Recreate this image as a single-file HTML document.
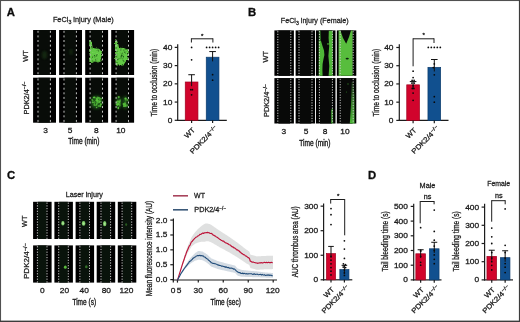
<!DOCTYPE html>
<html><head><meta charset="utf-8"><style>
html,body{margin:0;padding:0;background:#fff;}
svg{display:block;font-family:"Liberation Sans",sans-serif;will-change:transform;}
text{fill:#1c1c1c;stroke:#1c1c1c;stroke-width:0.27px;}
</style></head><body>
<svg width="520" height="322" viewBox="0 0 520 322">
<defs><filter id="b1" x="-50%" y="-50%" width="200%" height="200%"><feGaussianBlur stdDeviation="0.55"/></filter><filter id="b2" x="-50%" y="-50%" width="200%" height="200%"><feGaussianBlur stdDeviation="1.0"/></filter><filter id="b3" x="-50%" y="-50%" width="200%" height="200%"><feGaussianBlur stdDeviation="1.6"/></filter><filter id="rag" x="-30%" y="-30%" width="160%" height="160%"><feTurbulence type="fractalNoise" baseFrequency="0.55" numOctaves="2" seed="4" result="t"/><feDisplacementMap in="SourceGraphic" in2="t" scale="3.2" xChannelSelector="R" yChannelSelector="G" result="d"/><feGaussianBlur in="d" stdDeviation="0.45"/></filter></defs>
<rect x="0.00" y="0.00" width="520.00" height="322.00" fill="#fff" />
<text x="6.80" y="15.90" font-size="11.3" font-weight="bold" style="fill:#0c0c0c;stroke:#0c0c0c;stroke-width:0.3px;">A</text>
<text x="248.00" y="16.10" font-size="11.3" font-weight="bold" style="fill:#0c0c0c;stroke:#0c0c0c;stroke-width:0.3px;">B</text>
<text x="6.90" y="179.30" font-size="11.3" font-weight="bold" style="fill:#0c0c0c;stroke:#0c0c0c;stroke-width:0.3px;">C</text>
<text x="368.00" y="179.30" font-size="11.3" font-weight="bold" style="fill:#0c0c0c;stroke:#0c0c0c;stroke-width:0.3px;">D</text>
<text x="52.90" y="22.40" font-size="7.9" textLength="60.80" lengthAdjust="spacingAndGlyphs">FeCl<tspan font-size="72%" dy="1.7">3</tspan><tspan dy="-1.7"> injury (Male)</tspan></text>
<rect x="33.10" y="30.00" width="22.90" height="45.00" fill="#000" />
<rect x="38.50" y="30.00" width="11.40" height="45.00" fill="#080c08" />
<rect x="59.10" y="30.00" width="22.90" height="45.00" fill="#000" />
<rect x="64.50" y="30.00" width="11.40" height="45.00" fill="#080c08" />
<rect x="85.20" y="30.00" width="22.90" height="45.00" fill="#000" />
<rect x="90.60" y="30.00" width="11.40" height="45.00" fill="#080c08" />
<rect x="111.20" y="30.00" width="22.90" height="45.00" fill="#000" />
<rect x="116.60" y="30.00" width="11.40" height="45.00" fill="#080c08" />
<rect x="33.10" y="77.70" width="22.90" height="45.00" fill="#000" />
<rect x="38.50" y="77.70" width="11.40" height="45.00" fill="#080c08" />
<rect x="59.10" y="77.70" width="22.90" height="45.00" fill="#000" />
<rect x="64.50" y="77.70" width="11.40" height="45.00" fill="#080c08" />
<rect x="85.20" y="77.70" width="22.90" height="45.00" fill="#000" />
<rect x="90.60" y="77.70" width="11.40" height="45.00" fill="#080c08" />
<rect x="111.20" y="77.70" width="22.90" height="45.00" fill="#000" />
<rect x="116.60" y="77.70" width="11.40" height="45.00" fill="#080c08" />
<clipPath id="cp1"><path d="M89.3,40.5 L90.8,40 L92,44 L92.8,48 L96,48.5 L99,48.8 L101.5,51.5 L102.2,55 L100.8,58 L101.6,61 L98,62.6 L95,61.6 L92,62.9 L89.3,62 L89.9,57 L89.3,52 Z"/></clipPath>
<g filter="url(#rag)"><g clip-path="url(#cp1)"><rect x="89" y="40" width="14" height="23" fill="#62c944"/>
<rect x="101.94" y="50.71" width="1.05" height="1.16" fill="#1e5a16" opacity="0.73"/>
<rect x="96.17" y="54.49" width="1.19" height="0.78" fill="#1e5a16" opacity="0.86"/>
<rect x="90.27" y="58.62" width="0.69" height="0.90" fill="#1e5a16" opacity="0.81"/>
<rect x="102.51" y="55.04" width="0.64" height="1.58" fill="#1e5a16" opacity="0.78"/>
<rect x="96.40" y="41.37" width="0.76" height="0.62" fill="#1e5a16" opacity="0.59"/>
<rect x="95.50" y="50.13" width="0.84" height="0.63" fill="#1e5a16" opacity="0.88"/>
<rect x="96.00" y="55.24" width="1.12" height="1.24" fill="#1e5a16" opacity="0.71"/>
<rect x="102.94" y="59.32" width="0.88" height="1.60" fill="#1e5a16" opacity="0.82"/>
<rect x="93.05" y="41.62" width="0.92" height="0.83" fill="#1e5a16" opacity="0.84"/>
<rect x="94.41" y="62.03" width="1.00" height="1.45" fill="#1e5a16" opacity="0.88"/>
<rect x="101.74" y="50.81" width="0.60" height="0.81" fill="#1e5a16" opacity="0.94"/>
<rect x="97.81" y="57.91" width="1.00" height="0.67" fill="#1e5a16" opacity="0.62"/>
<rect x="102.50" y="57.43" width="0.69" height="0.93" fill="#1e5a16" opacity="0.55"/>
<rect x="89.84" y="58.33" width="0.85" height="0.70" fill="#1e5a16" opacity="0.58"/>
<rect x="91.67" y="56.83" width="1.16" height="1.05" fill="#1e5a16" opacity="0.56"/>
<rect x="94.89" y="44.90" width="1.24" height="0.72" fill="#1e5a16" opacity="0.62"/>
<rect x="93.26" y="60.35" width="1.57" height="1.40" fill="#1e5a16" opacity="0.59"/>
<rect x="97.99" y="42.31" width="0.99" height="1.45" fill="#1e5a16" opacity="0.95"/>
<rect x="99.82" y="47.57" width="0.81" height="0.86" fill="#1e5a16" opacity="0.63"/>
<rect x="97.16" y="45.59" width="0.67" height="0.69" fill="#1e5a16" opacity="0.77"/>
<rect x="102.43" y="51.13" width="0.97" height="1.05" fill="#1e5a16" opacity="0.76"/>
<rect x="91.16" y="60.89" width="1.47" height="0.78" fill="#1e5a16" opacity="0.87"/>
<rect x="99.35" y="61.63" width="0.85" height="0.79" fill="#1e5a16" opacity="0.59"/>
<rect x="97.45" y="49.69" width="1.55" height="1.48" fill="#1e5a16" opacity="0.55"/>
<rect x="92.34" y="56.21" width="0.64" height="1.56" fill="#1e5a16" opacity="0.62"/>
<rect x="93.11" y="44.03" width="1.42" height="1.20" fill="#1e5a16" opacity="0.82"/>
<rect x="96.83" y="59.61" width="0.67" height="0.83" fill="#1e5a16" opacity="0.78"/>
<rect x="91.86" y="40.38" width="0.88" height="1.52" fill="#1e5a16" opacity="0.62"/>
<rect x="91.47" y="48.48" width="1.05" height="0.66" fill="#1e5a16" opacity="0.76"/>
<rect x="101.47" y="62.55" width="0.73" height="0.96" fill="#1e5a16" opacity="0.80"/>
<rect x="90.96" y="40.81" width="1.29" height="1.18" fill="#1e5a16" opacity="0.51"/>
<rect x="102.48" y="40.49" width="1.51" height="1.30" fill="#1e5a16" opacity="0.79"/>
<rect x="93.46" y="62.99" width="1.08" height="1.33" fill="#1e5a16" opacity="0.53"/>
<rect x="101.60" y="56.95" width="1.15" height="1.34" fill="#1e5a16" opacity="0.82"/>
<rect x="93.93" y="55.76" width="1.39" height="1.52" fill="#1e5a16" opacity="0.91"/>
<rect x="100.07" y="59.86" width="1.47" height="1.02" fill="#1e5a16" opacity="0.76"/>
<rect x="97.16" y="54.00" width="1.22" height="0.98" fill="#1e5a16" opacity="0.54"/>
<rect x="101.32" y="56.75" width="1.24" height="1.59" fill="#1e5a16" opacity="0.67"/>
<rect x="95.17" y="59.28" width="1.34" height="1.18" fill="#1e5a16" opacity="0.54"/>
<rect x="97.42" y="51.06" width="1.35" height="0.63" fill="#1e5a16" opacity="0.60"/>
<rect x="97.60" y="61.17" width="1.30" height="1.10" fill="#1e5a16" opacity="0.62"/>
<rect x="98.49" y="44.66" width="0.61" height="0.90" fill="#1e5a16" opacity="0.58"/>
<rect x="95.19" y="60.51" width="1.51" height="1.26" fill="#1e5a16" opacity="0.65"/>
<rect x="95.03" y="58.54" width="1.27" height="0.80" fill="#1e5a16" opacity="0.91"/>
<rect x="97.16" y="47.28" width="1.48" height="0.98" fill="#1e5a16" opacity="0.56"/>
<rect x="100.88" y="56.36" width="1.10" height="1.44" fill="#1e5a16" opacity="0.93"/>
<rect x="95.31" y="46.33" width="0.88" height="0.77" fill="#1e5a16" opacity="0.60"/>
<rect x="95.91" y="47.25" width="1.01" height="1.23" fill="#1e5a16" opacity="0.88"/>
<rect x="90.05" y="40.72" width="1.58" height="1.05" fill="#1e5a16" opacity="0.89"/>
<rect x="96.99" y="47.11" width="0.64" height="1.31" fill="#1e5a16" opacity="0.86"/>
<rect x="95.37" y="40.57" width="0.62" height="0.74" fill="#1e5a16" opacity="0.87"/>
<rect x="89.66" y="54.47" width="0.84" height="0.74" fill="#1e5a16" opacity="0.70"/>
<rect x="100.30" y="62.04" width="1.23" height="1.26" fill="#1e5a16" opacity="0.81"/>
<rect x="91.50" y="40.25" width="0.80" height="1.08" fill="#1e5a16" opacity="0.71"/>
<rect x="92.81" y="47.95" width="1.31" height="0.78" fill="#1e5a16" opacity="0.81"/>
<rect x="99.59" y="49.05" width="1.02" height="1.09" fill="#8fe070" opacity="0.82"/>
<rect x="102.06" y="56.61" width="1.32" height="0.67" fill="#8fe070" opacity="0.55"/>
<rect x="101.74" y="48.67" width="0.96" height="1.10" fill="#8fe070" opacity="0.73"/>
<rect x="102.22" y="50.67" width="1.30" height="1.24" fill="#8fe070" opacity="0.76"/>
<rect x="100.46" y="54.76" width="0.76" height="1.18" fill="#8fe070" opacity="0.79"/>
<rect x="102.73" y="62.48" width="0.77" height="1.32" fill="#8fe070" opacity="0.71"/>
<rect x="101.74" y="59.68" width="1.23" height="0.86" fill="#8fe070" opacity="0.64"/>
<rect x="96.70" y="57.67" width="0.67" height="0.95" fill="#8fe070" opacity="0.69"/>
<rect x="89.90" y="58.40" width="0.62" height="1.25" fill="#8fe070" opacity="0.57"/>
<rect x="90.97" y="43.42" width="0.87" height="1.23" fill="#8fe070" opacity="0.71"/>
<rect x="98.65" y="61.75" width="1.18" height="1.27" fill="#8fe070" opacity="0.70"/>
<rect x="92.10" y="52.11" width="1.36" height="0.67" fill="#8fe070" opacity="0.62"/>
<rect x="96.32" y="59.40" width="1.18" height="1.11" fill="#8fe070" opacity="0.72"/>
<rect x="100.83" y="60.71" width="0.85" height="0.90" fill="#8fe070" opacity="0.58"/>
<rect x="96.34" y="53.18" width="1.28" height="1.37" fill="#8fe070" opacity="0.58"/>
<rect x="97.47" y="40.64" width="1.03" height="1.00" fill="#8fe070" opacity="0.89"/>
<rect x="100.21" y="52.95" width="1.01" height="0.92" fill="#8fe070" opacity="0.70"/>
<rect x="96.54" y="49.52" width="1.15" height="0.65" fill="#8fe070" opacity="0.88"/>
</g></g>
<clipPath id="cp2"><path d="M115,39.3 L116.8,39.8 L118.2,44 L119.2,47.8 L124,48 L127,49.4 L128.9,52 L127.6,55 L128.6,58 L126.2,61 L124.6,63.2 L123.4,65.6 L116,65.6 L115.3,60 L115,50 Z"/></clipPath>
<g filter="url(#rag)"><g clip-path="url(#cp2)"><rect x="114" y="39" width="16" height="27" fill="#62c944"/>
<rect x="124.66" y="42.85" width="1.07" height="1.26" fill="#1e5a16" opacity="0.50"/>
<rect x="126.97" y="57.65" width="0.97" height="0.87" fill="#1e5a16" opacity="0.77"/>
<rect x="116.32" y="50.88" width="1.16" height="1.26" fill="#1e5a16" opacity="0.57"/>
<rect x="127.10" y="41.01" width="1.51" height="0.66" fill="#1e5a16" opacity="0.81"/>
<rect x="127.48" y="39.50" width="0.94" height="1.00" fill="#1e5a16" opacity="0.53"/>
<rect x="115.46" y="65.65" width="1.52" height="1.11" fill="#1e5a16" opacity="0.93"/>
<rect x="116.16" y="47.44" width="0.71" height="1.02" fill="#1e5a16" opacity="0.78"/>
<rect x="114.82" y="43.62" width="0.76" height="1.30" fill="#1e5a16" opacity="0.87"/>
<rect x="123.54" y="51.87" width="1.00" height="1.02" fill="#1e5a16" opacity="0.67"/>
<rect x="129.48" y="65.36" width="0.63" height="1.33" fill="#1e5a16" opacity="0.80"/>
<rect x="125.04" y="57.19" width="0.96" height="0.96" fill="#1e5a16" opacity="0.55"/>
<rect x="122.18" y="60.87" width="0.83" height="0.96" fill="#1e5a16" opacity="0.73"/>
<rect x="120.88" y="53.01" width="0.63" height="1.42" fill="#1e5a16" opacity="0.60"/>
<rect x="126.35" y="41.77" width="1.03" height="0.99" fill="#1e5a16" opacity="0.75"/>
<rect x="114.59" y="46.47" width="0.78" height="1.30" fill="#1e5a16" opacity="0.65"/>
<rect x="121.35" y="44.64" width="1.24" height="0.65" fill="#1e5a16" opacity="0.63"/>
<rect x="121.70" y="64.81" width="1.08" height="1.56" fill="#1e5a16" opacity="0.58"/>
<rect x="117.03" y="59.21" width="1.52" height="0.96" fill="#1e5a16" opacity="0.91"/>
<rect x="126.33" y="48.23" width="0.61" height="0.87" fill="#1e5a16" opacity="0.61"/>
<rect x="123.91" y="65.56" width="0.61" height="0.64" fill="#1e5a16" opacity="0.95"/>
<rect x="119.16" y="60.26" width="1.10" height="0.62" fill="#1e5a16" opacity="0.87"/>
<rect x="122.44" y="51.89" width="1.24" height="0.83" fill="#1e5a16" opacity="0.78"/>
<rect x="128.31" y="43.38" width="0.86" height="1.55" fill="#1e5a16" opacity="0.63"/>
<rect x="129.10" y="52.91" width="1.47" height="0.88" fill="#1e5a16" opacity="0.81"/>
<rect x="118.56" y="45.88" width="1.30" height="0.81" fill="#1e5a16" opacity="0.81"/>
<rect x="128.18" y="50.35" width="1.29" height="0.73" fill="#1e5a16" opacity="0.61"/>
<rect x="122.96" y="55.87" width="1.04" height="1.58" fill="#1e5a16" opacity="0.91"/>
<rect x="120.68" y="54.89" width="1.56" height="1.36" fill="#1e5a16" opacity="0.91"/>
<rect x="119.56" y="48.95" width="1.39" height="1.18" fill="#1e5a16" opacity="0.83"/>
<rect x="125.36" y="63.40" width="1.16" height="0.62" fill="#1e5a16" opacity="0.86"/>
<rect x="122.56" y="60.31" width="1.50" height="1.51" fill="#1e5a16" opacity="0.67"/>
<rect x="118.99" y="64.22" width="0.70" height="0.95" fill="#1e5a16" opacity="0.81"/>
<rect x="116.00" y="53.42" width="1.14" height="1.22" fill="#1e5a16" opacity="0.82"/>
<rect x="120.51" y="47.74" width="0.99" height="0.85" fill="#1e5a16" opacity="0.81"/>
<rect x="119.00" y="57.79" width="0.74" height="0.69" fill="#1e5a16" opacity="0.84"/>
<rect x="119.85" y="39.80" width="1.26" height="1.53" fill="#1e5a16" opacity="0.72"/>
<rect x="124.68" y="48.21" width="1.04" height="0.78" fill="#1e5a16" opacity="0.61"/>
<rect x="114.12" y="48.73" width="0.93" height="1.54" fill="#1e5a16" opacity="0.63"/>
<rect x="117.53" y="63.81" width="0.80" height="1.03" fill="#1e5a16" opacity="0.73"/>
<rect x="121.43" y="55.38" width="1.30" height="0.76" fill="#1e5a16" opacity="0.88"/>
<rect x="127.68" y="61.46" width="0.85" height="1.06" fill="#1e5a16" opacity="0.60"/>
<rect x="120.32" y="57.18" width="1.14" height="1.36" fill="#1e5a16" opacity="0.80"/>
<rect x="124.89" y="48.46" width="1.57" height="1.15" fill="#1e5a16" opacity="0.83"/>
<rect x="119.77" y="47.29" width="0.92" height="1.10" fill="#1e5a16" opacity="0.56"/>
<rect x="118.03" y="40.24" width="0.83" height="1.14" fill="#1e5a16" opacity="0.86"/>
<rect x="123.58" y="49.51" width="0.89" height="1.54" fill="#1e5a16" opacity="0.89"/>
<rect x="116.01" y="56.31" width="1.50" height="0.92" fill="#1e5a16" opacity="0.88"/>
<rect x="120.60" y="55.68" width="1.21" height="1.38" fill="#1e5a16" opacity="0.62"/>
<rect x="120.15" y="49.79" width="1.01" height="0.98" fill="#1e5a16" opacity="0.86"/>
<rect x="118.07" y="65.22" width="0.77" height="0.81" fill="#1e5a16" opacity="0.74"/>
<rect x="127.98" y="61.17" width="0.65" height="1.44" fill="#1e5a16" opacity="0.66"/>
<rect x="116.20" y="62.36" width="1.33" height="0.91" fill="#1e5a16" opacity="0.87"/>
<rect x="114.39" y="47.33" width="0.81" height="1.48" fill="#1e5a16" opacity="0.51"/>
<rect x="125.45" y="47.01" width="0.77" height="0.76" fill="#1e5a16" opacity="0.59"/>
<rect x="127.79" y="55.39" width="0.78" height="0.91" fill="#1e5a16" opacity="0.55"/>
<rect x="121.18" y="53.24" width="1.28" height="1.14" fill="#1e5a16" opacity="0.79"/>
<rect x="124.17" y="51.62" width="1.40" height="1.11" fill="#1e5a16" opacity="0.79"/>
<rect x="122.27" y="58.31" width="0.99" height="1.01" fill="#1e5a16" opacity="0.63"/>
<rect x="127.69" y="57.64" width="1.52" height="1.09" fill="#1e5a16" opacity="0.93"/>
<rect x="120.49" y="55.41" width="1.28" height="1.03" fill="#1e5a16" opacity="0.84"/>
<rect x="115.00" y="41.92" width="1.27" height="0.70" fill="#8fe070" opacity="0.53"/>
<rect x="117.99" y="42.06" width="0.65" height="0.61" fill="#8fe070" opacity="0.77"/>
<rect x="129.37" y="59.16" width="1.09" height="1.37" fill="#8fe070" opacity="0.88"/>
<rect x="128.82" y="51.84" width="0.62" height="0.78" fill="#8fe070" opacity="0.58"/>
<rect x="122.69" y="47.53" width="1.21" height="0.94" fill="#8fe070" opacity="0.60"/>
<rect x="129.24" y="65.64" width="0.67" height="1.09" fill="#8fe070" opacity="0.81"/>
<rect x="118.77" y="63.93" width="1.35" height="0.89" fill="#8fe070" opacity="0.74"/>
<rect x="117.66" y="52.03" width="1.14" height="0.61" fill="#8fe070" opacity="0.79"/>
<rect x="119.44" y="49.30" width="1.26" height="1.21" fill="#8fe070" opacity="0.84"/>
<rect x="117.12" y="55.86" width="1.39" height="0.99" fill="#8fe070" opacity="0.71"/>
<rect x="120.17" y="55.53" width="0.89" height="0.78" fill="#8fe070" opacity="0.55"/>
<rect x="125.92" y="45.81" width="1.03" height="1.36" fill="#8fe070" opacity="0.67"/>
<rect x="124.11" y="43.67" width="0.68" height="1.19" fill="#8fe070" opacity="0.72"/>
<rect x="120.05" y="47.37" width="1.08" height="1.06" fill="#8fe070" opacity="0.64"/>
<rect x="122.04" y="51.42" width="1.40" height="0.86" fill="#8fe070" opacity="0.57"/>
<rect x="119.16" y="48.91" width="0.92" height="0.76" fill="#8fe070" opacity="0.64"/>
<rect x="119.32" y="56.75" width="1.35" height="0.84" fill="#8fe070" opacity="0.66"/>
<rect x="115.18" y="57.13" width="1.01" height="1.12" fill="#8fe070" opacity="0.54"/>
<rect x="129.83" y="57.19" width="0.80" height="1.25" fill="#8fe070" opacity="0.57"/>
<rect x="127.46" y="45.30" width="0.95" height="0.83" fill="#8fe070" opacity="0.58"/>
</g></g>
<ellipse cx="96.5" cy="102.2" rx="6.2" ry="6.5" fill="#1e5418" filter="url(#b3)"/>
<g filter="url(#b1)">
<ellipse cx="98.67" cy="106.05" rx="1.11" ry="0.98" fill="#5ccb3e" opacity="0.60"/>
<ellipse cx="97.76" cy="97.38" rx="1.01" ry="1.00" fill="#5ccb3e" opacity="0.61"/>
<ellipse cx="99.26" cy="102.26" rx="1.07" ry="0.66" fill="#5ccb3e" opacity="0.86"/>
<ellipse cx="96.72" cy="104.28" rx="0.63" ry="1.40" fill="#5ccb3e" opacity="0.83"/>
<ellipse cx="99.29" cy="99.28" rx="0.63" ry="0.86" fill="#5ccb3e" opacity="0.72"/>
<ellipse cx="100.49" cy="105.93" rx="0.89" ry="0.72" fill="#5ccb3e" opacity="0.87"/>
<ellipse cx="100.22" cy="106.09" rx="0.96" ry="1.04" fill="#5ccb3e" opacity="0.65"/>
<ellipse cx="94.80" cy="102.37" rx="0.63" ry="1.29" fill="#5ccb3e" opacity="0.61"/>
<ellipse cx="96.85" cy="100.30" rx="1.38" ry="1.32" fill="#5ccb3e" opacity="0.84"/>
<ellipse cx="96.80" cy="98.25" rx="1.18" ry="0.70" fill="#5ccb3e" opacity="0.71"/>
<ellipse cx="97.34" cy="100.53" rx="1.34" ry="1.31" fill="#5ccb3e" opacity="0.68"/>
<ellipse cx="94.40" cy="104.69" rx="0.91" ry="1.40" fill="#5ccb3e" opacity="0.67"/>
<ellipse cx="97.54" cy="102.38" rx="1.17" ry="1.39" fill="#5ccb3e" opacity="0.72"/>
<ellipse cx="92.86" cy="102.40" rx="1.20" ry="0.78" fill="#5ccb3e" opacity="0.77"/>
<ellipse cx="92.78" cy="100.75" rx="0.74" ry="0.74" fill="#5ccb3e" opacity="0.66"/>
<ellipse cx="98.86" cy="100.98" rx="1.08" ry="0.85" fill="#5ccb3e" opacity="0.55"/>
<ellipse cx="100.89" cy="104.21" rx="1.22" ry="0.90" fill="#5ccb3e" opacity="0.81"/>
<ellipse cx="94.19" cy="97.39" rx="1.37" ry="0.93" fill="#5ccb3e" opacity="0.95"/>
<ellipse cx="100.21" cy="101.24" rx="1.31" ry="0.99" fill="#5ccb3e" opacity="0.67"/>
<ellipse cx="96.59" cy="107.49" rx="0.73" ry="0.66" fill="#5ccb3e" opacity="0.86"/>
<ellipse cx="97.00" cy="98.75" rx="1.27" ry="0.64" fill="#5ccb3e" opacity="0.62"/>
<ellipse cx="95.75" cy="105.26" rx="0.74" ry="0.66" fill="#5ccb3e" opacity="0.65"/>
<ellipse cx="100.91" cy="98.80" rx="1.20" ry="0.98" fill="#5ccb3e" opacity="0.61"/>
<ellipse cx="99.91" cy="101.25" rx="1.18" ry="0.62" fill="#5ccb3e" opacity="0.60"/>
<ellipse cx="98.98" cy="98.00" rx="1.31" ry="1.08" fill="#5ccb3e" opacity="0.69"/>
<ellipse cx="92.19" cy="99.68" rx="0.85" ry="1.03" fill="#5ccb3e" opacity="0.62"/>
</g>
<ellipse cx="118.4" cy="102.5" rx="2.8" ry="6.3" fill="#1e5418" filter="url(#b3)"/>
<g filter="url(#b1)">
<ellipse cx="119.01" cy="102.13" rx="0.62" ry="1.40" fill="#5ccb3e" opacity="0.58"/>
<ellipse cx="119.74" cy="105.36" rx="0.88" ry="1.31" fill="#5ccb3e" opacity="0.60"/>
<ellipse cx="119.49" cy="101.86" rx="1.08" ry="1.35" fill="#5ccb3e" opacity="0.81"/>
<ellipse cx="120.14" cy="100.47" rx="0.64" ry="1.31" fill="#5ccb3e" opacity="0.77"/>
<ellipse cx="118.11" cy="104.13" rx="1.28" ry="1.07" fill="#5ccb3e" opacity="0.92"/>
<ellipse cx="118.76" cy="97.09" rx="1.05" ry="1.16" fill="#5ccb3e" opacity="0.78"/>
<ellipse cx="118.27" cy="107.94" rx="0.85" ry="1.22" fill="#5ccb3e" opacity="0.93"/>
<ellipse cx="118.03" cy="101.33" rx="1.26" ry="1.13" fill="#5ccb3e" opacity="0.58"/>
<ellipse cx="119.93" cy="103.60" rx="0.63" ry="1.34" fill="#5ccb3e" opacity="0.73"/>
<ellipse cx="117.07" cy="102.17" rx="1.13" ry="1.33" fill="#5ccb3e" opacity="0.64"/>
<ellipse cx="117.20" cy="105.24" rx="0.84" ry="1.08" fill="#5ccb3e" opacity="0.74"/>
<ellipse cx="116.67" cy="104.23" rx="1.02" ry="0.67" fill="#5ccb3e" opacity="0.95"/>
</g>
<ellipse cx="125.2" cy="102.5" rx="2.9" ry="6.3" fill="#1e5418" filter="url(#b3)"/>
<g filter="url(#b1)">
<ellipse cx="127.42" cy="100.04" rx="1.31" ry="0.67" fill="#5ccb3e" opacity="0.77"/>
<ellipse cx="123.73" cy="104.16" rx="0.70" ry="0.75" fill="#5ccb3e" opacity="0.70"/>
<ellipse cx="125.47" cy="105.69" rx="0.62" ry="0.67" fill="#5ccb3e" opacity="0.82"/>
<ellipse cx="123.77" cy="104.17" rx="1.19" ry="0.89" fill="#5ccb3e" opacity="0.53"/>
<ellipse cx="125.57" cy="98.70" rx="1.13" ry="1.10" fill="#5ccb3e" opacity="0.94"/>
<ellipse cx="123.81" cy="106.02" rx="0.89" ry="1.06" fill="#5ccb3e" opacity="0.80"/>
<ellipse cx="125.02" cy="103.43" rx="0.98" ry="1.17" fill="#5ccb3e" opacity="0.77"/>
<ellipse cx="123.40" cy="103.84" rx="0.75" ry="0.74" fill="#5ccb3e" opacity="0.65"/>
<ellipse cx="125.53" cy="100.86" rx="0.69" ry="0.68" fill="#5ccb3e" opacity="0.52"/>
<ellipse cx="124.92" cy="106.26" rx="1.26" ry="0.86" fill="#5ccb3e" opacity="0.67"/>
<ellipse cx="124.93" cy="104.88" rx="1.22" ry="1.04" fill="#5ccb3e" opacity="0.62"/>
<ellipse cx="126.91" cy="105.46" rx="1.17" ry="1.26" fill="#5ccb3e" opacity="0.61"/>
</g>
<ellipse cx="44.50" cy="55.00" rx="2.5" ry="4" fill="#1c3a18" opacity="0.6" filter="url(#b2)"/>
<ellipse cx="71.00" cy="52.00" rx="1.5" ry="3" fill="#1c3a18" opacity="0.6" filter="url(#b2)"/>
<line x1="38.00" y1="30.80" x2="38.00" y2="75.00" stroke="#c2c4c2" stroke-width="1" stroke-dasharray="2.0 2.60"/>
<line x1="50.40" y1="30.80" x2="50.40" y2="75.00" stroke="#c2c4c2" stroke-width="1" stroke-dasharray="2.0 2.60"/>
<line x1="64.00" y1="30.80" x2="64.00" y2="75.00" stroke="#c2c4c2" stroke-width="1" stroke-dasharray="2.0 2.60"/>
<line x1="76.40" y1="30.80" x2="76.40" y2="75.00" stroke="#c2c4c2" stroke-width="1" stroke-dasharray="2.0 2.60"/>
<line x1="90.10" y1="30.80" x2="90.10" y2="75.00" stroke="#c2c4c2" stroke-width="1" stroke-dasharray="2.0 2.60"/>
<line x1="102.50" y1="30.80" x2="102.50" y2="75.00" stroke="#c2c4c2" stroke-width="1" stroke-dasharray="2.0 2.60"/>
<line x1="116.10" y1="30.80" x2="116.10" y2="75.00" stroke="#c2c4c2" stroke-width="1" stroke-dasharray="2.0 2.60"/>
<line x1="128.50" y1="30.80" x2="128.50" y2="75.00" stroke="#c2c4c2" stroke-width="1" stroke-dasharray="2.0 2.60"/>
<line x1="38.00" y1="78.50" x2="38.00" y2="122.70" stroke="#c2c4c2" stroke-width="1" stroke-dasharray="2.0 2.60"/>
<line x1="50.40" y1="78.50" x2="50.40" y2="122.70" stroke="#c2c4c2" stroke-width="1" stroke-dasharray="2.0 2.60"/>
<line x1="64.00" y1="78.50" x2="64.00" y2="122.70" stroke="#c2c4c2" stroke-width="1" stroke-dasharray="2.0 2.60"/>
<line x1="76.40" y1="78.50" x2="76.40" y2="122.70" stroke="#c2c4c2" stroke-width="1" stroke-dasharray="2.0 2.60"/>
<line x1="90.10" y1="78.50" x2="90.10" y2="122.70" stroke="#c2c4c2" stroke-width="1" stroke-dasharray="2.0 2.60"/>
<line x1="102.50" y1="78.50" x2="102.50" y2="122.70" stroke="#c2c4c2" stroke-width="1" stroke-dasharray="2.0 2.60"/>
<line x1="116.10" y1="78.50" x2="116.10" y2="122.70" stroke="#c2c4c2" stroke-width="1" stroke-dasharray="2.0 2.60"/>
<line x1="128.50" y1="78.50" x2="128.50" y2="122.70" stroke="#c2c4c2" stroke-width="1" stroke-dasharray="2.0 2.60"/>
<text transform="translate(28.00,56.00) rotate(-90)" font-size="7.6" text-anchor="middle" textLength="11.40" lengthAdjust="spacingAndGlyphs">WT</text>
<text transform="translate(28.60,98.00) rotate(-90)" font-size="7.0" text-anchor="middle" textLength="33.00" lengthAdjust="spacingAndGlyphs">PDK2/4<tspan font-size="72%" dy="-2.4">−/−</tspan></text>
<text x="45.60" y="132.80" font-size="7.2" text-anchor="middle" textLength="4.65" lengthAdjust="spacingAndGlyphs">3</text>
<text x="69.95" y="132.80" font-size="7.2" text-anchor="middle" textLength="4.65" lengthAdjust="spacingAndGlyphs">5</text>
<text x="96.25" y="132.80" font-size="7.2" text-anchor="middle" textLength="4.65" lengthAdjust="spacingAndGlyphs">8</text>
<text x="120.85" y="132.80" font-size="7.2" text-anchor="middle" textLength="9.30" lengthAdjust="spacingAndGlyphs">10</text>
<text x="68.20" y="143.90" font-size="8.3" textLength="31.20" lengthAdjust="spacingAndGlyphs" style="stroke-width:0.36px;">Time (min)</text>
<line x1="177.70" y1="44.30" x2="177.70" y2="120.90" stroke="#1c1c1c" stroke-width="1.2" />
<line x1="177.10" y1="120.30" x2="226.80" y2="120.30" stroke="#1c1c1c" stroke-width="1.2" />
<line x1="174.70" y1="120.30" x2="177.70" y2="120.30" stroke="#1c1c1c" stroke-width="1.2" />
<text x="172.35" y="122.75" font-size="7.0" text-anchor="end" textLength="4.65" lengthAdjust="spacingAndGlyphs">0</text>
<line x1="174.70" y1="102.07" x2="177.70" y2="102.07" stroke="#1c1c1c" stroke-width="1.2" />
<text x="172.35" y="104.52" font-size="7.0" text-anchor="end" textLength="9.30" lengthAdjust="spacingAndGlyphs">10</text>
<line x1="174.70" y1="83.84" x2="177.70" y2="83.84" stroke="#1c1c1c" stroke-width="1.2" />
<text x="172.35" y="86.29" font-size="7.0" text-anchor="end" textLength="9.30" lengthAdjust="spacingAndGlyphs">20</text>
<line x1="174.70" y1="65.61" x2="177.70" y2="65.61" stroke="#1c1c1c" stroke-width="1.2" />
<text x="172.35" y="68.06" font-size="7.0" text-anchor="end" textLength="9.30" lengthAdjust="spacingAndGlyphs">30</text>
<line x1="174.70" y1="47.38" x2="177.70" y2="47.38" stroke="#1c1c1c" stroke-width="1.2" />
<text x="172.35" y="49.83" font-size="7.0" text-anchor="end" textLength="9.30" lengthAdjust="spacingAndGlyphs">40</text>
<rect x="185.25" y="82.00" width="12.70" height="38.30" fill="#d1042c" stroke="#a0021f" stroke-width="0.7"/>
<line x1="191.60" y1="74.72" x2="191.60" y2="86.15" stroke="#111" stroke-width="1.0" />
<line x1="188.30" y1="74.72" x2="194.90" y2="74.72" stroke="#111" stroke-width="1.0" />
<line x1="191.60" y1="120.30" x2="191.60" y2="123.10" stroke="#1c1c1c" stroke-width="1.2" />
<circle cx="191.60" cy="47.38" r="0.88" fill="#0a0a0a"/>
<circle cx="191.60" cy="59.78" r="0.88" fill="#0a0a0a"/>
<circle cx="191.60" cy="94.78" r="0.88" fill="#0a0a0a"/>
<circle cx="190.80" cy="89.67" r="0.88" fill="#0a0a0a"/>
<circle cx="192.40" cy="89.67" r="0.88" fill="#0a0a0a"/>
<rect x="206.25" y="57.21" width="12.70" height="63.09" fill="#11508f" stroke="#0b3b6c" stroke-width="0.7"/>
<line x1="212.60" y1="51.57" x2="212.60" y2="61.36" stroke="#111" stroke-width="1.0" />
<line x1="209.30" y1="51.57" x2="215.90" y2="51.57" stroke="#111" stroke-width="1.0" />
<line x1="212.60" y1="120.30" x2="212.60" y2="123.10" stroke="#1c1c1c" stroke-width="1.2" />
<circle cx="206.60" cy="47.38" r="0.88" fill="#0a0a0a"/>
<circle cx="209.60" cy="47.38" r="0.88" fill="#0a0a0a"/>
<circle cx="212.60" cy="47.38" r="0.88" fill="#0a0a0a"/>
<circle cx="215.60" cy="47.38" r="0.88" fill="#0a0a0a"/>
<circle cx="218.60" cy="47.38" r="0.88" fill="#0a0a0a"/>
<circle cx="212.60" cy="74.72" r="0.88" fill="#0a0a0a"/>
<circle cx="212.60" cy="80.19" r="0.88" fill="#0a0a0a"/>
<text transform="translate(157.30,82.70) rotate(-90)" font-size="8.7" text-anchor="middle" textLength="67.80" lengthAdjust="spacingAndGlyphs" style="stroke-width:0.3px;">Time to occlusion (min)</text>
<line x1="191.40" y1="38.80" x2="212.90" y2="38.80" stroke="#1c1c1c" stroke-width="1.0" />
<line x1="191.40" y1="38.30" x2="191.40" y2="42.50" stroke="#1c1c1c" stroke-width="1.0" />
<line x1="212.90" y1="38.30" x2="212.90" y2="42.50" stroke="#1c1c1c" stroke-width="1.0" />
<text x="202.10" y="37.60" font-size="6.2" text-anchor="middle">*</text>
<text x="280.80" y="22.90" font-size="7.9" textLength="67.80" lengthAdjust="spacingAndGlyphs">FeCl<tspan font-size="72%" dy="1.7">3</tspan><tspan dy="-1.7"> injury (Female)</tspan></text>
<rect x="274.40" y="30.40" width="19.50" height="45.40" fill="#000" />
<rect x="278.30" y="30.40" width="12.00" height="45.40" fill="#080908" />
<rect x="295.60" y="30.40" width="19.50" height="45.40" fill="#000" />
<rect x="299.50" y="30.40" width="12.00" height="45.40" fill="#080908" />
<rect x="316.00" y="30.40" width="19.50" height="45.40" fill="#000" />
<rect x="319.90" y="30.40" width="12.00" height="45.40" fill="#080908" />
<rect x="336.80" y="30.40" width="19.50" height="45.40" fill="#000" />
<rect x="340.70" y="30.40" width="12.00" height="45.40" fill="#080908" />
<rect x="274.40" y="78.10" width="19.50" height="45.40" fill="#000" />
<rect x="278.30" y="78.10" width="12.00" height="45.40" fill="#080908" />
<rect x="295.60" y="78.10" width="19.50" height="45.40" fill="#000" />
<rect x="299.50" y="78.10" width="12.00" height="45.40" fill="#080908" />
<rect x="316.00" y="78.10" width="19.50" height="45.40" fill="#000" />
<rect x="319.90" y="78.10" width="12.00" height="45.40" fill="#080908" />
<rect x="336.80" y="78.10" width="19.50" height="45.40" fill="#000" />
<rect x="340.70" y="78.10" width="12.00" height="45.40" fill="#080908" />
<path d="M318.8,30.6 L320.6,30.6 L321,38 L320.8,42 L318.8,42 Z" fill="#2f7a26" opacity="0.85" filter="url(#b1)"/>
<path d="M318.8,41 L321,41 L322.5,46 L324,50.5 L324.4,55 L323.5,59 L322.6,64 L322.4,70 L322.6,75.8 L318.8,75.8 Z" fill="#4fb838" opacity="1" filter="url(#b1)"/>
<path d="M328.8,30.8 L332.7,30.8 L332.7,75.8 L328.6,75.8 L329.3,66 L328.4,56 L329.2,46 L328.6,38 Z" fill="#4fb838" opacity="1" filter="url(#b1)"/>
<ellipse cx="328.00" cy="43.90" rx="0.9" ry="0.9" fill="#4fb838" opacity="0.8" filter="url(#b1)"/>
<path d="M338.6,30.4 L340.4,30.4 L343,38 L346.2,43.8 L349,37 L351,30.4 L352.6,30.4 L352.6,75.8 L338.6,75.8 Z" fill="#58bd3c" opacity="1" filter="url(#b1)"/>
<ellipse cx="347.20" cy="58.60" rx="1.6" ry="0.9" fill="#0b2008" opacity="1" filter="url(#b1)"/>
<path d="M331,110 L333,108 L333.2,123.5 L331,123.5 Z" fill="#3a9a2c" opacity="0.8" filter="url(#b1)"/>
<linearGradient id="gB4" x1="0" y1="0" x2="0" y2="1"><stop offset="0" stop-color="#2e7a24" stop-opacity="0.3"/><stop offset="0.5" stop-color="#3f9a2e" stop-opacity="0.8"/><stop offset="1" stop-color="#4cb538"/></linearGradient>
<path d="M351.6,82 L353.2,82 L354.5,95 L354.5,123.5 L349.8,123.5 L351,105 Z" fill="url(#gB4)" opacity="1" filter="url(#b1)"/>
<ellipse cx="348.00" cy="84.00" rx="0.7" ry="0.7" fill="#3a9a2c" opacity="0.7" filter="url(#b1)"/>
<ellipse cx="346.50" cy="92.00" rx="0.6" ry="0.6" fill="#3a9a2c" opacity="0.6" filter="url(#b1)"/>
<line x1="277.80" y1="31.20" x2="277.80" y2="75.80" stroke="#cfd1cf" stroke-width="1" stroke-dasharray="1.2 1.40"/>
<line x1="290.80" y1="31.20" x2="290.80" y2="75.80" stroke="#cfd1cf" stroke-width="1" stroke-dasharray="1.2 1.40"/>
<line x1="299.00" y1="31.20" x2="299.00" y2="75.80" stroke="#cfd1cf" stroke-width="1" stroke-dasharray="1.2 1.40"/>
<line x1="312.00" y1="31.20" x2="312.00" y2="75.80" stroke="#cfd1cf" stroke-width="1" stroke-dasharray="1.2 1.40"/>
<line x1="319.40" y1="31.20" x2="319.40" y2="75.80" stroke="#cfd1cf" stroke-width="1" stroke-dasharray="1.2 1.40"/>
<line x1="332.40" y1="31.20" x2="332.40" y2="75.80" stroke="#cfd1cf" stroke-width="1" stroke-dasharray="1.2 1.40"/>
<line x1="340.20" y1="31.20" x2="340.20" y2="75.80" stroke="#cfd1cf" stroke-width="1" stroke-dasharray="1.2 1.40"/>
<line x1="353.20" y1="31.20" x2="353.20" y2="75.80" stroke="#cfd1cf" stroke-width="1" stroke-dasharray="1.2 1.40"/>
<line x1="277.80" y1="78.90" x2="277.80" y2="123.50" stroke="#cfd1cf" stroke-width="1" stroke-dasharray="1.2 1.40"/>
<line x1="290.80" y1="78.90" x2="290.80" y2="123.50" stroke="#cfd1cf" stroke-width="1" stroke-dasharray="1.2 1.40"/>
<line x1="299.00" y1="78.90" x2="299.00" y2="123.50" stroke="#cfd1cf" stroke-width="1" stroke-dasharray="1.2 1.40"/>
<line x1="312.00" y1="78.90" x2="312.00" y2="123.50" stroke="#cfd1cf" stroke-width="1" stroke-dasharray="1.2 1.40"/>
<line x1="319.40" y1="78.90" x2="319.40" y2="123.50" stroke="#cfd1cf" stroke-width="1" stroke-dasharray="1.2 1.40"/>
<line x1="332.40" y1="78.90" x2="332.40" y2="123.50" stroke="#cfd1cf" stroke-width="1" stroke-dasharray="1.2 1.40"/>
<line x1="340.20" y1="78.90" x2="340.20" y2="123.50" stroke="#cfd1cf" stroke-width="1" stroke-dasharray="1.2 1.40"/>
<line x1="353.20" y1="78.90" x2="353.20" y2="123.50" stroke="#cfd1cf" stroke-width="1" stroke-dasharray="1.2 1.40"/>
<text transform="translate(268.30,56.80) rotate(-90)" font-size="7.6" text-anchor="middle" textLength="11.40" lengthAdjust="spacingAndGlyphs">WT</text>
<text transform="translate(269.40,100.50) rotate(-90)" font-size="7.0" text-anchor="middle" textLength="33.00" lengthAdjust="spacingAndGlyphs">PDK2/4<tspan font-size="72%" dy="-2.4">−/−</tspan></text>
<text x="283.85" y="133.60" font-size="7.2" text-anchor="middle" textLength="4.65" lengthAdjust="spacingAndGlyphs">3</text>
<text x="306.10" y="133.60" font-size="7.2" text-anchor="middle" textLength="4.65" lengthAdjust="spacingAndGlyphs">5</text>
<text x="325.15" y="133.60" font-size="7.2" text-anchor="middle" textLength="4.65" lengthAdjust="spacingAndGlyphs">8</text>
<text x="345.00" y="133.60" font-size="7.2" text-anchor="middle" textLength="9.30" lengthAdjust="spacingAndGlyphs">10</text>
<text x="299.20" y="145.50" font-size="8.3" textLength="31.30" lengthAdjust="spacingAndGlyphs" style="stroke-width:0.36px;">Time (min)</text>
<line x1="399.30" y1="44.30" x2="399.30" y2="121.00" stroke="#1c1c1c" stroke-width="1.2" />
<line x1="398.70" y1="120.40" x2="448.50" y2="120.40" stroke="#1c1c1c" stroke-width="1.2" />
<line x1="396.30" y1="120.40" x2="399.30" y2="120.40" stroke="#1c1c1c" stroke-width="1.2" />
<text x="393.45" y="122.85" font-size="7.0" text-anchor="end" textLength="4.65" lengthAdjust="spacingAndGlyphs">0</text>
<line x1="396.30" y1="102.17" x2="399.30" y2="102.17" stroke="#1c1c1c" stroke-width="1.2" />
<text x="393.45" y="104.62" font-size="7.0" text-anchor="end" textLength="9.30" lengthAdjust="spacingAndGlyphs">10</text>
<line x1="396.30" y1="83.94" x2="399.30" y2="83.94" stroke="#1c1c1c" stroke-width="1.2" />
<text x="393.45" y="86.39" font-size="7.0" text-anchor="end" textLength="9.30" lengthAdjust="spacingAndGlyphs">20</text>
<line x1="396.30" y1="65.71" x2="399.30" y2="65.71" stroke="#1c1c1c" stroke-width="1.2" />
<text x="393.45" y="68.16" font-size="7.0" text-anchor="end" textLength="9.30" lengthAdjust="spacingAndGlyphs">30</text>
<line x1="396.30" y1="47.48" x2="399.30" y2="47.48" stroke="#1c1c1c" stroke-width="1.2" />
<text x="393.45" y="49.93" font-size="7.0" text-anchor="end" textLength="9.30" lengthAdjust="spacingAndGlyphs">40</text>
<rect x="406.75" y="84.84" width="12.70" height="35.56" fill="#d1042c" stroke="#a0021f" stroke-width="0.7"/>
<line x1="413.10" y1="81.57" x2="413.10" y2="88.99" stroke="#111" stroke-width="1.0" />
<line x1="409.80" y1="81.57" x2="416.40" y2="81.57" stroke="#111" stroke-width="1.0" />
<line x1="413.10" y1="120.40" x2="413.10" y2="123.20" stroke="#1c1c1c" stroke-width="1.2" />
<circle cx="413.10" cy="71.18" r="0.88" fill="#0a0a0a"/>
<circle cx="413.10" cy="77.56" r="0.88" fill="#0a0a0a"/>
<circle cx="412.10" cy="80.29" r="0.88" fill="#0a0a0a"/>
<circle cx="414.10" cy="80.29" r="0.88" fill="#0a0a0a"/>
<circle cx="411.90" cy="83.03" r="0.88" fill="#0a0a0a"/>
<circle cx="414.30" cy="83.03" r="0.88" fill="#0a0a0a"/>
<circle cx="413.10" cy="85.76" r="0.88" fill="#0a0a0a"/>
<circle cx="412.30" cy="88.50" r="0.88" fill="#0a0a0a"/>
<circle cx="413.90" cy="88.50" r="0.88" fill="#0a0a0a"/>
<circle cx="413.10" cy="93.06" r="0.88" fill="#0a0a0a"/>
<circle cx="413.10" cy="100.35" r="0.88" fill="#0a0a0a"/>
<rect x="427.95" y="67.34" width="12.70" height="53.06" fill="#11508f" stroke="#0b3b6c" stroke-width="0.7"/>
<line x1="434.30" y1="59.51" x2="434.30" y2="71.49" stroke="#111" stroke-width="1.0" />
<line x1="431.00" y1="59.51" x2="437.60" y2="59.51" stroke="#111" stroke-width="1.0" />
<line x1="434.30" y1="120.40" x2="434.30" y2="123.20" stroke="#1c1c1c" stroke-width="1.2" />
<circle cx="428.30" cy="47.48" r="0.88" fill="#0a0a0a"/>
<circle cx="431.30" cy="47.48" r="0.88" fill="#0a0a0a"/>
<circle cx="434.30" cy="47.48" r="0.88" fill="#0a0a0a"/>
<circle cx="437.30" cy="47.48" r="0.88" fill="#0a0a0a"/>
<circle cx="440.30" cy="47.48" r="0.88" fill="#0a0a0a"/>
<circle cx="434.30" cy="63.89" r="0.88" fill="#0a0a0a"/>
<circle cx="433.30" cy="67.53" r="0.88" fill="#0a0a0a"/>
<circle cx="434.30" cy="74.83" r="0.88" fill="#0a0a0a"/>
<circle cx="434.30" cy="96.70" r="0.88" fill="#0a0a0a"/>
<circle cx="434.30" cy="102.17" r="0.88" fill="#0a0a0a"/>
<text transform="translate(378.90,82.70) rotate(-90)" font-size="8.7" text-anchor="middle" textLength="67.80" lengthAdjust="spacingAndGlyphs" style="stroke-width:0.3px;">Time to occlusion (min)</text>
<line x1="413.10" y1="38.80" x2="434.00" y2="38.80" stroke="#1c1c1c" stroke-width="1.0" />
<line x1="413.10" y1="38.30" x2="413.10" y2="66.30" stroke="#1c1c1c" stroke-width="1.0" />
<line x1="434.00" y1="38.30" x2="434.00" y2="43.00" stroke="#1c1c1c" stroke-width="1.0" />
<text x="423.80" y="37.40" font-size="6.2" text-anchor="middle">*</text>
<text x="65.70" y="196.60" font-size="7.7" textLength="37.30" lengthAdjust="spacingAndGlyphs">Laser injury</text>
<rect x="33.10" y="201.80" width="18.50" height="37.20" fill="#000" />
<rect x="37.90" y="201.80" width="8.60" height="37.20" fill="#09130b" />
<rect x="54.40" y="201.80" width="18.50" height="37.20" fill="#000" />
<rect x="59.20" y="201.80" width="8.60" height="37.20" fill="#09130b" />
<rect x="75.60" y="201.80" width="18.50" height="37.20" fill="#000" />
<rect x="80.40" y="201.80" width="8.60" height="37.20" fill="#09130b" />
<rect x="96.70" y="201.80" width="18.50" height="37.20" fill="#000" />
<rect x="101.50" y="201.80" width="8.60" height="37.20" fill="#09130b" />
<rect x="117.80" y="201.80" width="18.50" height="37.20" fill="#000" />
<rect x="122.60" y="201.80" width="8.60" height="37.20" fill="#09130b" />
<rect x="33.10" y="245.40" width="18.50" height="37.20" fill="#000" />
<rect x="37.90" y="245.40" width="8.60" height="37.20" fill="#09130b" />
<rect x="54.40" y="245.40" width="18.50" height="37.20" fill="#000" />
<rect x="59.20" y="245.40" width="8.60" height="37.20" fill="#09130b" />
<rect x="75.60" y="245.40" width="18.50" height="37.20" fill="#000" />
<rect x="80.40" y="245.40" width="8.60" height="37.20" fill="#09130b" />
<rect x="96.70" y="245.40" width="18.50" height="37.20" fill="#000" />
<rect x="101.50" y="245.40" width="8.60" height="37.20" fill="#09130b" />
<rect x="117.80" y="245.40" width="18.50" height="37.20" fill="#000" />
<rect x="122.60" y="245.40" width="8.60" height="37.20" fill="#09130b" />
<ellipse cx="62.90" cy="223.20" rx="1.6" ry="2.3" fill="#7acb64" opacity="1" filter="url(#b1)"/>
<ellipse cx="63.00" cy="223.30" rx="0.8" ry="1.2" fill="#b8e8a8" opacity="0.8" filter="url(#b1)"/>
<ellipse cx="83.60" cy="223.40" rx="1.8" ry="2.4" fill="#7acb64" opacity="1" filter="url(#b1)"/>
<ellipse cx="83.60" cy="223.60" rx="0.9" ry="1.2" fill="#b8e8a8" opacity="0.8" filter="url(#b1)"/>
<ellipse cx="104.70" cy="223.70" rx="1.7" ry="2.6" fill="#7acb64" opacity="1" filter="url(#b1)"/>
<ellipse cx="104.70" cy="223.80" rx="0.8" ry="1.3" fill="#b8e8a8" opacity="0.8" filter="url(#b1)"/>
<ellipse cx="126.20" cy="224.60" rx="1.0" ry="1.3" fill="#2f6a24" opacity="0.8" filter="url(#b1)"/>
<ellipse cx="65.30" cy="267.20" rx="1.4" ry="1.6" fill="#5abb3c" opacity="1" filter="url(#b1)"/>
<ellipse cx="86.30" cy="266.80" rx="1.3" ry="1.5" fill="#3f8a30" opacity="0.8" filter="url(#b1)"/>
<line x1="37.40" y1="202.60" x2="37.40" y2="239.00" stroke="#cfd1cf" stroke-width="1" stroke-dasharray="1.2 1.50"/>
<line x1="47.00" y1="202.60" x2="47.00" y2="239.00" stroke="#cfd1cf" stroke-width="1" stroke-dasharray="1.2 1.50"/>
<line x1="58.70" y1="202.60" x2="58.70" y2="239.00" stroke="#cfd1cf" stroke-width="1" stroke-dasharray="1.2 1.50"/>
<line x1="68.30" y1="202.60" x2="68.30" y2="239.00" stroke="#cfd1cf" stroke-width="1" stroke-dasharray="1.2 1.50"/>
<line x1="79.90" y1="202.60" x2="79.90" y2="239.00" stroke="#cfd1cf" stroke-width="1" stroke-dasharray="1.2 1.50"/>
<line x1="89.50" y1="202.60" x2="89.50" y2="239.00" stroke="#cfd1cf" stroke-width="1" stroke-dasharray="1.2 1.50"/>
<line x1="101.00" y1="202.60" x2="101.00" y2="239.00" stroke="#cfd1cf" stroke-width="1" stroke-dasharray="1.2 1.50"/>
<line x1="110.60" y1="202.60" x2="110.60" y2="239.00" stroke="#cfd1cf" stroke-width="1" stroke-dasharray="1.2 1.50"/>
<line x1="122.10" y1="202.60" x2="122.10" y2="239.00" stroke="#cfd1cf" stroke-width="1" stroke-dasharray="1.2 1.50"/>
<line x1="131.70" y1="202.60" x2="131.70" y2="239.00" stroke="#cfd1cf" stroke-width="1" stroke-dasharray="1.2 1.50"/>
<line x1="37.40" y1="246.20" x2="37.40" y2="282.60" stroke="#cfd1cf" stroke-width="1" stroke-dasharray="1.2 1.50"/>
<line x1="47.00" y1="246.20" x2="47.00" y2="282.60" stroke="#cfd1cf" stroke-width="1" stroke-dasharray="1.2 1.50"/>
<line x1="58.70" y1="246.20" x2="58.70" y2="282.60" stroke="#cfd1cf" stroke-width="1" stroke-dasharray="1.2 1.50"/>
<line x1="68.30" y1="246.20" x2="68.30" y2="282.60" stroke="#cfd1cf" stroke-width="1" stroke-dasharray="1.2 1.50"/>
<line x1="79.90" y1="246.20" x2="79.90" y2="282.60" stroke="#cfd1cf" stroke-width="1" stroke-dasharray="1.2 1.50"/>
<line x1="89.50" y1="246.20" x2="89.50" y2="282.60" stroke="#cfd1cf" stroke-width="1" stroke-dasharray="1.2 1.50"/>
<line x1="101.00" y1="246.20" x2="101.00" y2="282.60" stroke="#cfd1cf" stroke-width="1" stroke-dasharray="1.2 1.50"/>
<line x1="110.60" y1="246.20" x2="110.60" y2="282.60" stroke="#cfd1cf" stroke-width="1" stroke-dasharray="1.2 1.50"/>
<line x1="122.10" y1="246.20" x2="122.10" y2="282.60" stroke="#cfd1cf" stroke-width="1" stroke-dasharray="1.2 1.50"/>
<line x1="131.70" y1="246.20" x2="131.70" y2="282.60" stroke="#cfd1cf" stroke-width="1" stroke-dasharray="1.2 1.50"/>
<text transform="translate(27.10,221.30) rotate(-90)" font-size="7.6" text-anchor="middle" textLength="11.30" lengthAdjust="spacingAndGlyphs">WT</text>
<text transform="translate(29.20,261.00) rotate(-90)" font-size="7.4" text-anchor="middle" textLength="36.00" lengthAdjust="spacingAndGlyphs">PDK2/4<tspan font-size="72%" dy="-2.4">−/−</tspan></text>
<text x="42.25" y="293.00" font-size="7.2" text-anchor="middle" textLength="4.65" lengthAdjust="spacingAndGlyphs">0</text>
<text x="64.40" y="293.00" font-size="7.2" text-anchor="middle" textLength="9.30" lengthAdjust="spacingAndGlyphs">20</text>
<text x="84.20" y="293.00" font-size="7.2" text-anchor="middle" textLength="9.30" lengthAdjust="spacingAndGlyphs">40</text>
<text x="106.35" y="293.00" font-size="7.2" text-anchor="middle" textLength="9.30" lengthAdjust="spacingAndGlyphs">80</text>
<text x="126.35" y="293.00" font-size="7.2" text-anchor="middle" textLength="13.95" lengthAdjust="spacingAndGlyphs">120</text>
<text x="72.40" y="304.60" font-size="8.3" textLength="23.70" lengthAdjust="spacingAndGlyphs" style="stroke-width:0.36px;">Time (s)</text>
<line x1="173.40" y1="218.60" x2="173.40" y2="280.20" stroke="#1c1c1c" stroke-width="1.2" />
<line x1="172.80" y1="280.00" x2="277.00" y2="280.00" stroke="#1c1c1c" stroke-width="1.2" />
<line x1="170.30" y1="279.60" x2="173.40" y2="279.60" stroke="#1c1c1c" stroke-width="1.2" />
<text x="167.35" y="282.05" font-size="7.0" text-anchor="end" textLength="11.50" lengthAdjust="spacingAndGlyphs">0.0</text>
<line x1="170.30" y1="264.73" x2="173.40" y2="264.73" stroke="#1c1c1c" stroke-width="1.2" />
<text x="167.35" y="267.18" font-size="7.0" text-anchor="end" textLength="11.50" lengthAdjust="spacingAndGlyphs">0.5</text>
<line x1="170.30" y1="249.85" x2="173.40" y2="249.85" stroke="#1c1c1c" stroke-width="1.2" />
<text x="167.35" y="252.30" font-size="7.0" text-anchor="end" textLength="11.50" lengthAdjust="spacingAndGlyphs">1.0</text>
<line x1="170.30" y1="234.98" x2="173.40" y2="234.98" stroke="#1c1c1c" stroke-width="1.2" />
<text x="167.35" y="237.43" font-size="7.0" text-anchor="end" textLength="11.50" lengthAdjust="spacingAndGlyphs">1.5</text>
<line x1="170.30" y1="220.10" x2="173.40" y2="220.10" stroke="#1c1c1c" stroke-width="1.2" />
<text x="167.35" y="222.55" font-size="7.0" text-anchor="end" textLength="11.50" lengthAdjust="spacingAndGlyphs">2.0</text>
<line x1="173.30" y1="280.00" x2="173.30" y2="282.60" stroke="#1c1c1c" stroke-width="1.2" />
<line x1="177.46" y1="280.00" x2="177.46" y2="282.60" stroke="#1c1c1c" stroke-width="1.2" />
<line x1="198.28" y1="280.00" x2="198.28" y2="282.60" stroke="#1c1c1c" stroke-width="1.2" />
<line x1="223.25" y1="280.00" x2="223.25" y2="282.60" stroke="#1c1c1c" stroke-width="1.2" />
<line x1="248.23" y1="280.00" x2="248.23" y2="282.60" stroke="#1c1c1c" stroke-width="1.2" />
<line x1="273.20" y1="280.00" x2="273.20" y2="282.60" stroke="#1c1c1c" stroke-width="1.2" />
<text x="173.10" y="292.90" font-size="7.2" text-anchor="middle" textLength="4.65" lengthAdjust="spacingAndGlyphs">0</text>
<text x="179.06" y="292.90" font-size="7.2" text-anchor="middle" textLength="4.65" lengthAdjust="spacingAndGlyphs">5</text>
<text x="198.28" y="292.90" font-size="7.2" text-anchor="middle" textLength="9.30" lengthAdjust="spacingAndGlyphs">30</text>
<text x="223.25" y="292.90" font-size="7.2" text-anchor="middle" textLength="9.30" lengthAdjust="spacingAndGlyphs">60</text>
<text x="248.23" y="292.90" font-size="7.2" text-anchor="middle" textLength="9.30" lengthAdjust="spacingAndGlyphs">90</text>
<text x="272.60" y="292.90" font-size="7.2" text-anchor="middle" textLength="13.95" lengthAdjust="spacingAndGlyphs">120</text>
<text x="210.50" y="305.00" font-size="8.3" textLength="30.30" lengthAdjust="spacingAndGlyphs" style="stroke-width:0.36px;">Time (sec)</text>
<text transform="translate(152.30,248.50) rotate(-90)" font-size="8.5" text-anchor="middle" textLength="95.40" lengthAdjust="spacingAndGlyphs" style="stroke-width:0.3px;">Mean fluorescence intensity (AU)</text>
<path d="M177.50,279.90 L178.00,278.26 L178.50,276.46 L179.00,274.66 L179.50,272.86 L180.00,271.06 L180.50,269.31 L181.00,267.57 L181.50,265.82 L182.00,264.08 L182.50,262.33 L183.00,260.59 L183.50,258.99 L184.00,257.39 L184.50,255.79 L185.00,254.19 L185.50,252.60 L186.00,251.00 L186.50,249.40 L187.00,247.80 L187.50,246.64 L188.00,245.48 L188.50,244.32 L189.00,243.16 L189.50,241.99 L190.00,240.83 L190.50,239.67 L191.00,238.51 L191.50,237.35 L192.00,236.46 L192.50,235.76 L193.00,235.05 L193.50,234.34 L194.00,233.64 L194.50,232.93 L195.00,232.22 L195.50,231.70 L196.00,231.17 L196.50,230.65 L197.00,230.12 L197.50,229.60 L198.00,229.07 L198.50,228.59 L199.00,228.15 L199.50,227.72 L200.00,227.29 L200.50,226.86 L201.00,226.43 L201.50,226.00 L202.00,225.57 L202.50,225.25 L203.00,224.94 L203.50,224.62 L204.00,224.31 L204.50,223.99 L205.00,223.68 L205.50,223.55 L206.00,223.45 L206.50,223.50 L207.00,223.54 L207.50,223.59 L208.00,223.63 L208.50,223.68 L209.00,223.90 L209.50,224.12 L210.00,224.34 L210.50,224.57 L211.00,224.79 L211.50,225.06 L212.00,225.41 L212.50,225.76 L213.00,226.11 L213.50,226.46 L214.00,226.81 L214.50,227.16 L215.00,227.51 L215.50,227.86 L216.00,228.20 L216.50,228.55 L217.00,228.89 L217.50,229.24 L218.00,229.58 L218.50,229.93 L219.00,230.28 L219.50,230.62 L220.00,230.97 L220.50,231.29 L221.00,231.60 L221.50,231.92 L222.00,232.24 L222.50,232.56 L223.00,232.88 L223.50,233.20 L224.00,233.52 L224.50,233.83 L225.00,234.15 L225.50,234.47 L226.00,234.79 L226.50,235.11 L227.00,235.43 L227.50,235.75 L228.00,236.07 L228.50,236.38 L229.00,236.72 L229.50,237.08 L230.00,237.43 L230.50,237.78 L231.00,238.14 L231.50,238.49 L232.00,238.84 L232.50,239.20 L233.00,239.55 L233.50,239.90 L234.00,240.25 L234.50,240.61 L235.00,240.96 L235.50,241.31 L236.00,241.67 L236.50,242.02 L237.00,242.37 L237.50,242.73 L238.00,243.12 L238.50,243.51 L239.00,243.90 L239.50,244.28 L240.00,244.67 L240.50,245.06 L241.00,245.45 L241.50,245.83 L242.00,246.22 L242.50,246.61 L243.00,247.00 L243.50,247.39 L244.00,247.77 L244.50,248.16 L245.00,248.55 L245.50,248.94 L246.00,249.32 L246.50,249.67 L247.00,250.01 L247.50,250.35 L248.00,250.69 L248.50,251.02 L249.00,251.36 L249.50,252.12 L250.00,253.51 L250.50,254.63 L251.00,254.76 L251.50,254.90 L252.00,255.04 L252.50,255.17 L253.00,255.31 L253.50,255.45 L254.00,255.58 L254.50,255.72 L255.00,255.85 L255.50,255.99 L256.00,256.13 L256.50,256.26 L257.00,256.40 L257.50,256.37 L258.00,256.34 L258.50,256.31 L259.00,256.28 L259.50,256.24 L260.00,256.21 L260.50,256.18 L261.00,256.15 L261.50,256.12 L262.00,256.09 L262.50,256.06 L263.00,256.03 L263.50,255.99 L264.00,255.96 L264.50,255.93 L265.00,255.90 L265.50,255.89 L266.00,255.88 L266.50,255.86 L267.00,255.85 L267.50,255.84 L268.00,255.83 L268.50,255.82 L269.00,255.80 L269.50,255.79 L270.00,255.78 L270.50,255.77 L271.00,255.76 L271.50,255.74 L272.00,255.73 L272.50,255.72 L273.00,255.71 L273.00,269.11 L272.50,269.12 L272.00,269.13 L271.50,269.14 L271.00,269.16 L270.50,269.17 L270.00,269.18 L269.50,269.19 L269.00,269.20 L268.50,269.22 L268.00,269.23 L267.50,269.24 L267.00,269.25 L266.50,269.26 L266.00,269.28 L265.50,269.29 L265.00,269.30 L264.50,269.33 L264.00,269.36 L263.50,269.39 L263.00,269.43 L262.50,269.46 L262.00,269.49 L261.50,269.52 L261.00,269.55 L260.50,269.58 L260.00,269.61 L259.50,269.64 L259.00,269.68 L258.50,269.71 L258.00,269.74 L257.50,269.77 L257.00,269.80 L256.50,269.66 L256.00,269.53 L255.50,269.39 L255.00,269.25 L254.50,269.12 L254.00,268.98 L253.50,268.85 L253.00,268.71 L252.50,268.57 L252.00,268.44 L251.50,268.30 L251.00,268.16 L250.50,268.03 L250.00,266.91 L249.50,265.57 L249.00,264.86 L248.50,264.58 L248.00,264.29 L247.50,264.00 L247.00,263.72 L246.50,263.43 L246.00,263.13 L245.50,262.80 L245.00,262.46 L244.50,262.12 L244.00,261.79 L243.50,261.45 L243.00,261.11 L242.50,260.78 L242.00,260.44 L241.50,260.10 L241.00,259.77 L240.50,259.43 L240.00,259.09 L239.50,258.76 L239.00,258.42 L238.50,258.08 L238.00,257.75 L237.50,257.41 L237.00,257.10 L236.50,256.80 L236.00,256.50 L235.50,256.20 L235.00,255.89 L234.50,255.59 L234.00,255.29 L233.50,254.99 L233.00,254.69 L232.50,254.38 L232.00,254.08 L231.50,253.78 L231.00,253.48 L230.50,253.18 L230.00,252.87 L229.50,252.57 L229.00,252.27 L228.50,251.98 L228.00,251.71 L227.50,251.45 L227.00,251.18 L226.50,250.91 L226.00,250.64 L225.50,250.38 L225.00,250.11 L224.50,249.84 L224.00,249.57 L223.50,249.31 L223.00,249.04 L222.50,248.77 L222.00,248.50 L221.50,248.24 L221.00,247.97 L220.50,247.70 L220.00,247.43 L219.50,247.14 L219.00,246.84 L218.50,246.55 L218.00,246.26 L217.50,245.96 L217.00,245.67 L216.50,245.37 L216.00,245.08 L215.50,244.78 L215.00,244.49 L214.50,244.19 L214.00,243.89 L213.50,243.59 L213.00,243.29 L212.50,243.00 L212.00,242.70 L211.50,242.40 L211.00,242.18 L210.50,242.00 L210.00,241.83 L209.50,241.66 L209.00,241.49 L208.50,241.32 L208.00,241.33 L207.50,241.33 L207.00,241.34 L206.50,241.35 L206.00,241.35 L205.50,241.50 L205.00,241.68 L204.50,241.67 L204.00,241.66 L203.50,241.66 L203.00,241.65 L202.50,241.64 L202.00,241.63 L201.50,241.74 L201.00,241.85 L200.50,241.96 L200.00,242.07 L199.50,242.18 L199.00,242.29 L198.50,242.40 L198.00,242.56 L197.50,242.77 L197.00,242.97 L196.50,243.17 L196.00,243.37 L195.50,243.58 L195.00,243.78 L194.50,244.16 L194.00,244.55 L193.50,244.93 L193.00,245.32 L192.50,245.70 L192.00,246.08 L191.50,246.65 L191.00,247.49 L190.50,248.33 L190.00,249.17 L189.50,250.01 L189.00,250.84 L188.50,251.68 L188.00,252.52 L187.50,253.36 L187.00,254.20 L186.50,255.48 L186.00,256.75 L185.50,258.03 L185.00,259.31 L184.50,260.58 L184.00,261.86 L183.50,263.13 L183.00,264.41 L182.50,265.83 L182.00,267.26 L181.50,268.68 L181.00,270.10 L180.50,271.52 L180.00,272.94 L179.50,274.42 L179.00,275.90 L178.50,277.38 L178.00,278.86 L177.50,280.50 Z" fill="#dfe0e0"/>
<path d="M177.50,280.00 L178.00,279.04 L178.50,277.98 L179.00,276.92 L179.50,275.86 L180.00,274.79 L180.50,273.73 L181.00,272.67 L181.50,271.81 L182.00,270.96 L182.50,270.11 L183.00,269.25 L183.50,268.39 L184.00,267.54 L184.50,266.69 L185.00,265.83 L185.50,265.02 L186.00,264.25 L186.50,263.48 L187.00,262.71 L187.50,261.94 L188.00,261.17 L188.50,260.40 L189.00,259.79 L189.50,259.19 L190.00,258.58 L190.50,257.98 L191.00,257.37 L191.50,256.76 L192.00,256.22 L192.50,255.72 L193.00,255.23 L193.50,254.73 L194.00,254.23 L194.50,253.73 L195.00,253.23 L195.50,252.87 L196.00,252.50 L196.50,252.14 L197.00,251.78 L197.50,251.42 L198.00,251.05 L198.50,250.94 L199.00,251.02 L199.50,251.10 L200.00,251.18 L200.50,251.26 L201.00,251.34 L201.50,251.42 L202.00,251.50 L202.50,251.58 L203.00,251.84 L203.50,252.14 L204.00,252.45 L204.50,252.76 L205.00,253.06 L205.50,253.37 L206.00,253.67 L206.50,253.98 L207.00,254.28 L207.50,254.76 L208.00,255.24 L208.50,255.71 L209.00,256.19 L209.50,256.66 L210.00,257.14 L210.50,257.61 L211.00,258.09 L211.50,258.45 L212.00,258.66 L212.50,258.86 L213.00,259.06 L213.50,259.26 L214.00,259.47 L214.50,259.67 L215.00,259.87 L215.50,260.07 L216.00,260.28 L216.50,260.48 L217.00,260.68 L217.50,260.88 L218.00,261.06 L218.50,261.20 L219.00,261.34 L219.50,261.49 L220.00,261.63 L220.50,261.77 L221.00,261.91 L221.50,262.05 L222.00,262.19 L222.50,262.33 L223.00,262.47 L223.50,262.61 L224.00,262.75 L224.50,262.89 L225.00,263.02 L225.50,263.16 L226.00,263.29 L226.50,263.42 L227.00,263.55 L227.50,263.68 L228.00,263.81 L228.50,263.94 L229.00,264.08 L229.50,264.21 L230.00,264.34 L230.50,264.47 L231.00,264.60 L231.50,264.73 L232.00,264.85 L232.50,264.98 L233.00,265.11 L233.50,265.23 L234.00,265.36 L234.50,265.49 L235.00,265.61 L235.50,266.04 L236.00,266.66 L236.50,267.29 L237.00,267.91 L237.50,268.45 L238.00,268.62 L238.50,268.79 L239.00,268.95 L239.50,269.12 L240.00,269.29 L240.50,269.46 L241.00,269.63 L241.50,269.80 L242.00,269.90 L242.50,269.96 L243.00,270.02 L243.50,270.08 L244.00,270.13 L244.50,270.19 L245.00,270.25 L245.50,270.31 L246.00,270.37 L246.50,270.43 L247.00,270.49 L247.50,270.55 L248.00,270.60 L248.50,270.66 L249.00,270.72 L249.50,270.76 L250.00,270.81 L250.50,270.85 L251.00,270.89 L251.50,270.93 L252.00,270.98 L252.50,271.02 L253.00,271.06 L253.50,271.10 L254.00,271.15 L254.50,271.19 L255.00,271.23 L255.50,271.28 L256.00,271.32 L256.50,271.36 L257.00,271.40 L257.50,271.46 L258.00,271.53 L258.50,271.59 L259.00,271.65 L259.50,271.71 L260.00,271.77 L260.50,271.83 L261.00,271.89 L261.50,271.95 L262.00,272.02 L262.50,272.08 L263.00,272.14 L263.50,272.20 L264.00,272.26 L264.50,272.32 L265.00,272.38 L265.50,272.43 L266.00,272.47 L266.50,272.51 L267.00,272.55 L267.50,272.59 L268.00,272.63 L268.50,272.68 L269.00,272.72 L269.50,272.76 L270.00,272.80 L270.50,272.84 L271.00,272.88 L271.50,272.93 L272.00,272.97 L272.50,273.01 L273.00,273.05 L273.00,277.72 L272.50,277.71 L272.00,277.71 L271.50,277.70 L271.00,277.69 L270.50,277.69 L270.00,277.68 L269.50,277.67 L269.00,277.67 L268.50,277.66 L268.00,277.66 L267.50,277.65 L267.00,277.64 L266.50,277.64 L266.00,277.63 L265.50,277.62 L265.00,277.62 L264.50,277.59 L264.00,277.56 L263.50,277.54 L263.00,277.51 L262.50,277.49 L262.00,277.46 L261.50,277.43 L261.00,277.41 L260.50,277.38 L260.00,277.35 L259.50,277.33 L259.00,277.30 L258.50,277.28 L258.00,277.25 L257.50,277.22 L257.00,277.20 L256.50,277.19 L256.00,277.18 L255.50,277.18 L255.00,277.17 L254.50,277.16 L254.00,277.15 L253.50,277.15 L253.00,277.14 L252.50,277.13 L252.00,277.12 L251.50,277.12 L251.00,277.11 L250.50,277.10 L250.00,277.09 L249.50,277.09 L249.00,277.08 L248.50,277.05 L248.00,277.03 L247.50,277.01 L247.00,276.98 L246.50,276.96 L246.00,276.94 L245.50,276.91 L245.00,276.89 L244.50,276.87 L244.00,276.84 L243.50,276.82 L243.00,276.80 L242.50,276.77 L242.00,276.75 L241.50,276.68 L241.00,276.55 L240.50,276.41 L240.00,276.28 L239.50,276.15 L239.00,276.01 L238.50,275.88 L238.00,275.75 L237.50,275.61 L237.00,275.11 L236.50,274.51 L236.00,273.90 L235.50,273.30 L235.00,272.89 L234.50,272.79 L234.00,272.68 L233.50,272.58 L233.00,272.47 L232.50,272.36 L232.00,272.26 L231.50,272.15 L231.00,272.05 L230.50,271.94 L230.00,271.83 L229.50,271.71 L229.00,271.60 L228.50,271.49 L228.00,271.38 L227.50,271.27 L227.00,271.16 L226.50,271.05 L226.00,270.94 L225.50,270.83 L225.00,270.72 L224.50,270.60 L224.00,270.49 L223.50,270.37 L223.00,270.25 L222.50,270.13 L222.00,270.01 L221.50,269.89 L221.00,269.77 L220.50,269.64 L220.00,269.52 L219.50,269.40 L219.00,269.28 L218.50,269.16 L218.00,269.04 L217.50,268.88 L217.00,268.70 L216.50,268.52 L216.00,268.34 L215.50,268.16 L215.00,267.97 L214.50,267.79 L214.00,267.61 L213.50,267.43 L213.00,267.25 L212.50,267.06 L212.00,266.88 L211.50,266.70 L211.00,266.35 L210.50,265.90 L210.00,265.44 L209.50,264.99 L209.00,264.53 L208.50,264.08 L208.00,263.63 L207.50,263.17 L207.00,262.72 L206.50,262.43 L206.00,262.14 L205.50,261.86 L205.00,261.57 L204.50,261.29 L204.00,261.00 L203.50,260.72 L203.00,260.43 L202.50,260.19 L202.00,260.13 L201.50,260.07 L201.00,260.02 L200.50,259.96 L200.00,259.90 L199.50,259.84 L199.00,259.78 L198.50,259.72 L198.00,259.85 L197.50,260.01 L197.00,260.16 L196.50,260.31 L196.00,260.46 L195.50,260.62 L195.00,260.77 L194.50,261.06 L194.00,261.35 L193.50,261.64 L193.00,261.93 L192.50,262.21 L192.00,262.50 L191.50,262.84 L191.00,263.23 L190.50,263.62 L190.00,264.02 L189.50,264.42 L189.00,264.81 L188.50,265.20 L188.00,265.77 L187.50,266.33 L187.00,266.89 L186.50,267.45 L186.00,268.01 L185.50,268.57 L185.00,269.17 L184.50,269.81 L184.00,270.46 L183.50,271.11 L183.00,271.75 L182.50,272.39 L182.00,273.04 L181.50,273.69 L181.00,274.33 L180.50,275.18 L180.00,276.03 L179.50,276.89 L179.00,277.74 L178.50,278.59 L178.00,279.44 L177.50,280.40 Z" fill="#d3dbe3"/>
<polyline points="177.50,280.20 178.20,277.90 178.90,275.61 179.60,273.31 180.30,271.05 181.00,268.83 181.70,266.62 182.40,264.40 183.10,262.21 183.80,260.20 184.50,258.19 185.20,255.99 185.90,254.19 186.60,252.06 187.30,250.47 188.00,249.09 188.70,247.30 189.40,245.86 190.10,245.04 190.80,243.23 191.50,241.81 192.20,241.40 192.90,240.27 193.60,239.76 194.30,238.75 195.00,238.10 195.70,237.25 196.40,237.08 197.10,236.73 197.80,235.98 198.50,235.66 199.20,235.23 199.90,234.43 200.60,234.54 201.30,234.04 202.00,233.46 202.70,233.06 203.40,233.43 204.10,232.93 204.80,232.89 205.50,232.79 206.20,232.56 206.90,232.73 207.60,232.39 208.30,232.70 209.00,232.66 209.70,233.28 210.40,233.51 211.10,233.24 211.80,233.67 212.50,234.18 213.20,235.16 213.90,235.24 214.60,235.83 215.30,236.05 216.00,236.65 216.70,237.01 217.40,237.43 218.10,238.04 218.80,238.49 219.50,239.16 220.20,239.44 220.90,240.03 221.60,240.39 222.30,240.89 223.00,241.08 223.70,241.13 224.40,242.03 225.10,242.51 225.80,242.88 226.50,243.06 227.20,243.57 227.90,243.63 228.60,244.47 229.30,244.74 230.00,245.00 230.70,245.30 231.40,246.32 232.10,246.87 232.80,246.70 233.50,247.66 234.20,247.84 234.90,248.12 235.60,248.68 236.30,249.47 237.00,250.00 237.70,249.90 238.40,250.80 239.10,250.91 239.80,251.89 240.50,252.13 241.20,253.02 241.90,253.60 242.60,253.77 243.30,254.62 244.00,254.65 244.70,254.99 245.40,255.86 246.10,255.97 246.80,256.53 247.50,257.11 248.20,257.69 248.90,257.81 249.60,258.80 250.30,261.28 251.00,261.33 251.70,261.98 252.40,262.12 253.10,261.95 253.80,262.20 254.50,262.43 255.20,262.71 255.90,262.87 256.60,263.03 257.30,263.17 258.00,263.35 258.70,263.00 259.40,262.90 260.10,263.06 260.80,262.68 261.50,262.68 262.20,263.11 262.90,262.75 263.60,262.72 264.30,262.30 265.00,262.54 265.70,262.64 266.40,262.23 267.10,262.63 267.80,262.63 268.50,262.21 269.20,262.59 269.90,262.46 270.60,262.59 271.30,262.34 272.00,262.58 272.70,262.58" fill="none" stroke="#bd1238" stroke-width="1.15" stroke-linejoin="round"/>
<polyline points="177.50,280.20 178.20,278.86 178.90,277.52 179.60,276.18 180.30,274.84 181.00,273.50 181.70,272.45 182.40,271.40 183.10,270.35 183.80,269.30 184.50,268.25 185.20,267.29 185.90,266.44 186.60,265.54 187.30,264.71 188.00,263.63 188.70,262.90 189.40,261.57 190.10,261.18 190.80,260.81 191.50,259.90 192.20,259.49 192.90,258.38 193.60,258.08 194.30,257.37 195.00,257.03 195.70,256.69 196.40,255.94 197.10,255.72 197.80,255.40 198.50,255.62 199.20,255.61 199.90,255.28 200.60,255.83 201.30,255.47 202.00,255.90 202.70,255.70 203.40,256.02 204.10,257.05 204.80,257.00 205.50,257.41 206.20,258.36 206.90,258.70 207.60,258.91 208.30,260.03 209.00,260.39 209.70,261.14 210.40,261.46 211.10,262.62 211.80,262.83 212.50,263.29 213.20,263.51 213.90,263.36 214.60,263.67 215.30,263.80 216.00,264.06 216.70,264.27 217.40,264.71 218.10,265.15 218.80,264.91 219.50,265.57 220.20,265.51 220.90,265.68 221.60,266.22 222.30,266.16 223.00,266.23 223.70,266.53 224.40,266.87 225.10,266.58 225.80,267.40 226.50,266.90 227.20,267.58 227.90,267.81 228.60,267.41 229.30,268.11 230.00,267.99 230.70,268.31 231.40,268.07 232.10,268.26 232.80,268.52 233.50,269.22 234.20,268.86 234.90,269.41 235.60,270.09 236.30,270.96 237.00,271.40 237.70,271.99 238.40,272.32 239.10,272.71 239.80,272.45 240.50,273.11 241.20,273.36 241.90,273.57 242.60,273.05 243.30,273.74 244.00,273.20 244.70,273.44 245.40,273.68 246.10,273.95 246.80,273.61 247.50,274.07 248.20,273.87 248.90,273.76 249.60,273.80 250.30,273.74 251.00,273.70 251.70,273.79 252.40,274.20 253.10,274.45 253.80,273.90 254.50,273.86 255.20,274.55 255.90,274.27 256.60,274.21 257.30,274.14 258.00,274.45 258.70,274.68 259.40,274.48 260.10,274.52 260.80,274.32 261.50,274.98 262.20,274.43 262.90,274.81 263.60,275.11 264.30,274.68 265.00,275.16 265.70,275.35 266.40,275.16 267.10,275.30 267.80,274.86 268.50,275.12 269.20,274.96 269.90,275.48 270.60,275.13 271.30,275.27 272.00,275.69 272.70,275.62" fill="none" stroke="#204c7a" stroke-width="1.1" stroke-linejoin="round"/>
<line x1="173.00" y1="195.80" x2="188.00" y2="195.80" stroke="#a8445c" stroke-width="1.6" />
<line x1="173.00" y1="209.80" x2="188.00" y2="209.80" stroke="#3a5878" stroke-width="1.6" />
<text x="194.10" y="197.90" font-size="7.0" textLength="10.90" lengthAdjust="spacingAndGlyphs">WT</text>
<text x="194.30" y="211.80" font-size="7.0" textLength="31.80" lengthAdjust="spacingAndGlyphs">PDK2/4<tspan font-size="64%" dy="-2.3">−/−</tspan></text>
<line x1="323.60" y1="203.60" x2="323.60" y2="280.40" stroke="#1c1c1c" stroke-width="1.2" />
<line x1="323.00" y1="279.80" x2="352.30" y2="279.80" stroke="#1c1c1c" stroke-width="1.2" />
<line x1="320.60" y1="279.80" x2="323.60" y2="279.80" stroke="#1c1c1c" stroke-width="1.2" />
<text x="318.15" y="282.25" font-size="7.0" text-anchor="end" textLength="4.65" lengthAdjust="spacingAndGlyphs">0</text>
<line x1="320.60" y1="255.25" x2="323.60" y2="255.25" stroke="#1c1c1c" stroke-width="1.2" />
<text x="318.15" y="257.70" font-size="7.0" text-anchor="end" textLength="13.95" lengthAdjust="spacingAndGlyphs">100</text>
<line x1="320.60" y1="230.70" x2="323.60" y2="230.70" stroke="#1c1c1c" stroke-width="1.2" />
<text x="318.15" y="233.15" font-size="7.0" text-anchor="end" textLength="13.95" lengthAdjust="spacingAndGlyphs">200</text>
<line x1="320.60" y1="206.15" x2="323.60" y2="206.15" stroke="#1c1c1c" stroke-width="1.2" />
<text x="318.15" y="208.60" font-size="7.0" text-anchor="end" textLength="13.95" lengthAdjust="spacingAndGlyphs">300</text>
<rect x="326.45" y="253.64" width="9.10" height="26.16" fill="#d1042c" stroke="#a0021f" stroke-width="0.7"/>
<line x1="331.00" y1="246.41" x2="331.00" y2="257.79" stroke="#111" stroke-width="1.0" />
<line x1="328.20" y1="246.41" x2="333.80" y2="246.41" stroke="#111" stroke-width="1.0" />
<line x1="331.00" y1="279.80" x2="331.00" y2="282.60" stroke="#1c1c1c" stroke-width="1.2" />
<circle cx="331.00" cy="208.61" r="0.88" fill="#0a0a0a"/>
<circle cx="331.00" cy="214.74" r="0.88" fill="#0a0a0a"/>
<circle cx="331.00" cy="224.56" r="0.88" fill="#0a0a0a"/>
<circle cx="331.00" cy="256.48" r="0.88" fill="#0a0a0a"/>
<circle cx="331.00" cy="260.16" r="0.88" fill="#0a0a0a"/>
<circle cx="331.00" cy="263.84" r="0.88" fill="#0a0a0a"/>
<circle cx="331.00" cy="267.53" r="0.88" fill="#0a0a0a"/>
<circle cx="331.00" cy="271.21" r="0.88" fill="#0a0a0a"/>
<circle cx="331.00" cy="274.89" r="0.88" fill="#0a0a0a"/>
<rect x="339.85" y="269.59" width="9.10" height="10.21" fill="#11508f" stroke="#0b3b6c" stroke-width="0.7"/>
<line x1="344.40" y1="265.32" x2="344.40" y2="273.74" stroke="#111" stroke-width="1.0" />
<line x1="341.60" y1="265.32" x2="347.20" y2="265.32" stroke="#111" stroke-width="1.0" />
<line x1="344.40" y1="279.80" x2="344.40" y2="282.60" stroke="#1c1c1c" stroke-width="1.2" />
<circle cx="344.40" cy="240.77" r="0.88" fill="#0a0a0a"/>
<circle cx="344.40" cy="249.11" r="0.88" fill="#0a0a0a"/>
<circle cx="344.40" cy="258.44" r="0.88" fill="#0a0a0a"/>
<circle cx="343.40" cy="263.84" r="0.88" fill="#0a0a0a"/>
<circle cx="345.40" cy="264.58" r="0.88" fill="#0a0a0a"/>
<circle cx="344.40" cy="265.81" r="0.88" fill="#0a0a0a"/>
<circle cx="343.20" cy="267.03" r="0.88" fill="#0a0a0a"/>
<circle cx="345.60" cy="267.53" r="0.88" fill="#0a0a0a"/>
<circle cx="344.40" cy="269.98" r="0.88" fill="#0a0a0a"/>
<circle cx="344.40" cy="272.93" r="0.88" fill="#0a0a0a"/>
<circle cx="344.40" cy="275.38" r="0.88" fill="#0a0a0a"/>
<line x1="330.70" y1="199.50" x2="344.70" y2="199.50" stroke="#1c1c1c" stroke-width="1.0" />
<line x1="330.70" y1="199.00" x2="330.70" y2="203.60" stroke="#1c1c1c" stroke-width="1.0" />
<line x1="344.70" y1="199.00" x2="344.70" y2="235.30" stroke="#1c1c1c" stroke-width="1.0" />
<text x="338.20" y="198.30" font-size="6.2" text-anchor="middle">*</text>
<text transform="translate(298.40,241.85) rotate(-90)" font-size="8.4" text-anchor="middle" textLength="71.00" lengthAdjust="spacingAndGlyphs" style="stroke-width:0.3px;">AUC thrombus area (AU)</text>
<line x1="413.70" y1="203.70" x2="413.70" y2="280.50" stroke="#1c1c1c" stroke-width="1.2" />
<line x1="413.10" y1="279.90" x2="441.50" y2="279.90" stroke="#1c1c1c" stroke-width="1.2" />
<line x1="410.70" y1="279.90" x2="413.70" y2="279.90" stroke="#1c1c1c" stroke-width="1.2" />
<text x="407.85" y="282.35" font-size="7.0" text-anchor="end" textLength="4.65" lengthAdjust="spacingAndGlyphs">0</text>
<line x1="410.70" y1="265.20" x2="413.70" y2="265.20" stroke="#1c1c1c" stroke-width="1.2" />
<text x="407.85" y="267.65" font-size="7.0" text-anchor="end" textLength="13.95" lengthAdjust="spacingAndGlyphs">100</text>
<line x1="410.70" y1="250.50" x2="413.70" y2="250.50" stroke="#1c1c1c" stroke-width="1.2" />
<text x="407.85" y="252.95" font-size="7.0" text-anchor="end" textLength="13.95" lengthAdjust="spacingAndGlyphs">200</text>
<line x1="410.70" y1="235.80" x2="413.70" y2="235.80" stroke="#1c1c1c" stroke-width="1.2" />
<text x="407.85" y="238.25" font-size="7.0" text-anchor="end" textLength="13.95" lengthAdjust="spacingAndGlyphs">300</text>
<line x1="410.70" y1="221.10" x2="413.70" y2="221.10" stroke="#1c1c1c" stroke-width="1.2" />
<text x="407.85" y="223.55" font-size="7.0" text-anchor="end" textLength="13.95" lengthAdjust="spacingAndGlyphs">400</text>
<line x1="410.70" y1="206.40" x2="413.70" y2="206.40" stroke="#1c1c1c" stroke-width="1.2" />
<text x="407.85" y="208.85" font-size="7.0" text-anchor="end" textLength="13.95" lengthAdjust="spacingAndGlyphs">500</text>
<rect x="415.85" y="253.79" width="9.60" height="26.11" fill="#d1042c" stroke="#a0021f" stroke-width="0.7"/>
<line x1="420.65" y1="249.76" x2="420.65" y2="257.94" stroke="#111" stroke-width="1.0" />
<line x1="417.65" y1="249.76" x2="423.65" y2="249.76" stroke="#111" stroke-width="1.0" />
<line x1="420.65" y1="279.90" x2="420.65" y2="282.70" stroke="#1c1c1c" stroke-width="1.2" />
<circle cx="420.65" cy="227.71" r="0.88" fill="#0a0a0a"/>
<circle cx="420.65" cy="250.50" r="0.88" fill="#0a0a0a"/>
<circle cx="420.65" cy="251.23" r="0.88" fill="#0a0a0a"/>
<circle cx="420.65" cy="256.38" r="0.88" fill="#0a0a0a"/>
<circle cx="420.65" cy="262.26" r="0.88" fill="#0a0a0a"/>
<circle cx="420.65" cy="265.20" r="0.88" fill="#0a0a0a"/>
<rect x="429.45" y="248.79" width="9.60" height="31.11" fill="#11508f" stroke="#0b3b6c" stroke-width="0.7"/>
<line x1="434.25" y1="242.27" x2="434.25" y2="252.94" stroke="#111" stroke-width="1.0" />
<line x1="431.25" y1="242.27" x2="437.25" y2="242.27" stroke="#111" stroke-width="1.0" />
<line x1="434.25" y1="279.90" x2="434.25" y2="282.70" stroke="#1c1c1c" stroke-width="1.2" />
<circle cx="434.25" cy="210.07" r="0.88" fill="#0a0a0a"/>
<circle cx="434.25" cy="231.39" r="0.88" fill="#0a0a0a"/>
<circle cx="434.25" cy="240.21" r="0.88" fill="#0a0a0a"/>
<circle cx="434.25" cy="246.09" r="0.88" fill="#0a0a0a"/>
<circle cx="434.25" cy="250.50" r="0.88" fill="#0a0a0a"/>
<circle cx="434.25" cy="254.91" r="0.88" fill="#0a0a0a"/>
<circle cx="434.25" cy="259.32" r="0.88" fill="#0a0a0a"/>
<circle cx="434.25" cy="263.73" r="0.88" fill="#0a0a0a"/>
<text x="419.60" y="187.50" font-size="7.6" textLength="15.80" lengthAdjust="spacingAndGlyphs">Male</text>
<text x="423.80" y="198.90" font-size="6.6" textLength="7.60" lengthAdjust="spacingAndGlyphs">ns</text>
<line x1="420.20" y1="201.50" x2="434.10" y2="201.50" stroke="#1c1c1c" stroke-width="1.0" />
<line x1="420.20" y1="201.00" x2="420.20" y2="223.30" stroke="#1c1c1c" stroke-width="1.0" />
<line x1="434.10" y1="201.00" x2="434.10" y2="204.30" stroke="#1c1c1c" stroke-width="1.0" />
<text transform="translate(387.60,241.40) rotate(-90)" font-size="8.6" text-anchor="middle" textLength="60.10" lengthAdjust="spacingAndGlyphs" style="stroke-width:0.3px;">Tail bleeding time (s)</text>
<line x1="484.60" y1="203.70" x2="484.60" y2="280.50" stroke="#1c1c1c" stroke-width="1.2" />
<line x1="484.00" y1="279.90" x2="513.00" y2="279.90" stroke="#1c1c1c" stroke-width="1.2" />
<line x1="481.60" y1="279.90" x2="484.60" y2="279.90" stroke="#1c1c1c" stroke-width="1.2" />
<text x="479.15" y="282.35" font-size="7.0" text-anchor="end" textLength="4.65" lengthAdjust="spacingAndGlyphs">0</text>
<line x1="481.60" y1="261.70" x2="484.60" y2="261.70" stroke="#1c1c1c" stroke-width="1.2" />
<text x="479.15" y="264.15" font-size="7.0" text-anchor="end" textLength="13.95" lengthAdjust="spacingAndGlyphs">100</text>
<line x1="481.60" y1="243.50" x2="484.60" y2="243.50" stroke="#1c1c1c" stroke-width="1.2" />
<text x="479.15" y="245.95" font-size="7.0" text-anchor="end" textLength="13.95" lengthAdjust="spacingAndGlyphs">200</text>
<line x1="481.60" y1="225.30" x2="484.60" y2="225.30" stroke="#1c1c1c" stroke-width="1.2" />
<text x="479.15" y="227.75" font-size="7.0" text-anchor="end" textLength="13.95" lengthAdjust="spacingAndGlyphs">300</text>
<line x1="481.60" y1="207.10" x2="484.60" y2="207.10" stroke="#1c1c1c" stroke-width="1.2" />
<text x="479.15" y="209.55" font-size="7.0" text-anchor="end" textLength="13.95" lengthAdjust="spacingAndGlyphs">400</text>
<rect x="486.95" y="256.41" width="9.60" height="23.49" fill="#d1042c" stroke="#a0021f" stroke-width="0.7"/>
<line x1="491.75" y1="250.23" x2="491.75" y2="260.56" stroke="#111" stroke-width="1.0" />
<line x1="488.75" y1="250.23" x2="494.75" y2="250.23" stroke="#111" stroke-width="1.0" />
<line x1="491.75" y1="279.90" x2="491.75" y2="282.70" stroke="#1c1c1c" stroke-width="1.2" />
<circle cx="491.75" cy="228.03" r="0.88" fill="#0a0a0a"/>
<circle cx="491.75" cy="236.77" r="0.88" fill="#0a0a0a"/>
<circle cx="491.75" cy="243.50" r="0.88" fill="#0a0a0a"/>
<circle cx="491.75" cy="252.60" r="0.88" fill="#0a0a0a"/>
<circle cx="491.75" cy="258.06" r="0.88" fill="#0a0a0a"/>
<circle cx="491.75" cy="261.70" r="0.88" fill="#0a0a0a"/>
<circle cx="491.75" cy="265.34" r="0.88" fill="#0a0a0a"/>
<circle cx="491.75" cy="269.89" r="0.88" fill="#0a0a0a"/>
<rect x="500.35" y="257.68" width="9.60" height="22.22" fill="#11508f" stroke="#0b3b6c" stroke-width="0.7"/>
<line x1="505.15" y1="250.78" x2="505.15" y2="261.83" stroke="#111" stroke-width="1.0" />
<line x1="502.15" y1="250.78" x2="508.15" y2="250.78" stroke="#111" stroke-width="1.0" />
<line x1="505.15" y1="279.90" x2="505.15" y2="282.70" stroke="#1c1c1c" stroke-width="1.2" />
<circle cx="505.15" cy="208.92" r="0.88" fill="#0a0a0a"/>
<circle cx="505.15" cy="245.32" r="0.88" fill="#0a0a0a"/>
<circle cx="505.15" cy="252.60" r="0.88" fill="#0a0a0a"/>
<circle cx="505.15" cy="258.06" r="0.88" fill="#0a0a0a"/>
<circle cx="505.15" cy="263.52" r="0.88" fill="#0a0a0a"/>
<circle cx="505.15" cy="267.16" r="0.88" fill="#0a0a0a"/>
<circle cx="505.15" cy="272.62" r="0.88" fill="#0a0a0a"/>
<text x="487.20" y="185.80" font-size="7.6" textLength="23.00" lengthAdjust="spacingAndGlyphs">Female</text>
<text x="495.00" y="197.90" font-size="6.6" textLength="7.60" lengthAdjust="spacingAndGlyphs">ns</text>
<line x1="491.70" y1="200.70" x2="505.20" y2="200.70" stroke="#1c1c1c" stroke-width="1.0" />
<line x1="491.70" y1="200.20" x2="491.70" y2="221.70" stroke="#1c1c1c" stroke-width="1.0" />
<line x1="505.20" y1="200.20" x2="505.20" y2="204.30" stroke="#1c1c1c" stroke-width="1.0" />
<text transform="translate(458.80,241.40) rotate(-90)" font-size="8.6" text-anchor="middle" textLength="60.10" lengthAdjust="spacingAndGlyphs" style="stroke-width:0.3px;">Tail bleeding time (s)</text>
<text transform="translate(195.40,130.60) rotate(-45)" font-size="7.2" text-anchor="end" textLength="11.60" lengthAdjust="spacingAndGlyphs">WT</text>
<text transform="translate(218.10,128.80) rotate(-45)" font-size="7.0" text-anchor="end" textLength="36.00" lengthAdjust="spacingAndGlyphs">PDK2/4<tspan font-size="72%" dy="-2.4">−/−</tspan></text>
<text transform="translate(416.90,130.70) rotate(-45)" font-size="7.2" text-anchor="end" textLength="11.60" lengthAdjust="spacingAndGlyphs">WT</text>
<text transform="translate(439.80,128.90) rotate(-45)" font-size="7.0" text-anchor="end" textLength="36.00" lengthAdjust="spacingAndGlyphs">PDK2/4<tspan font-size="72%" dy="-2.4">−/−</tspan></text>
<text transform="translate(334.80,290.10) rotate(-45)" font-size="7.2" text-anchor="end" textLength="11.60" lengthAdjust="spacingAndGlyphs">WT</text>
<text transform="translate(349.90,288.30) rotate(-45)" font-size="7.0" text-anchor="end" textLength="36.00" lengthAdjust="spacingAndGlyphs">PDK2/4<tspan font-size="72%" dy="-2.4">−/−</tspan></text>
<text transform="translate(424.45,290.20) rotate(-45)" font-size="7.2" text-anchor="end" textLength="11.60" lengthAdjust="spacingAndGlyphs">WT</text>
<text transform="translate(439.75,288.40) rotate(-45)" font-size="7.0" text-anchor="end" textLength="36.00" lengthAdjust="spacingAndGlyphs">PDK2/4<tspan font-size="72%" dy="-2.4">−/−</tspan></text>
<text transform="translate(495.55,290.20) rotate(-45)" font-size="7.2" text-anchor="end" textLength="11.60" lengthAdjust="spacingAndGlyphs">WT</text>
<text transform="translate(510.65,288.40) rotate(-45)" font-size="7.0" text-anchor="end" textLength="36.00" lengthAdjust="spacingAndGlyphs">PDK2/4<tspan font-size="72%" dy="-2.4">−/−</tspan></text>
<rect x="0.00" y="0.00" width="520.00" height="1.05" fill="#505050" />
<rect x="0.00" y="0.00" width="1.05" height="322.00" fill="#505050" />
<rect x="518.90" y="0.00" width="1.10" height="322.00" fill="#3c3c3c" />
<rect x="0.00" y="320.60" width="520.00" height="1.40" fill="#3c3c3c" />
</svg></body></html>
